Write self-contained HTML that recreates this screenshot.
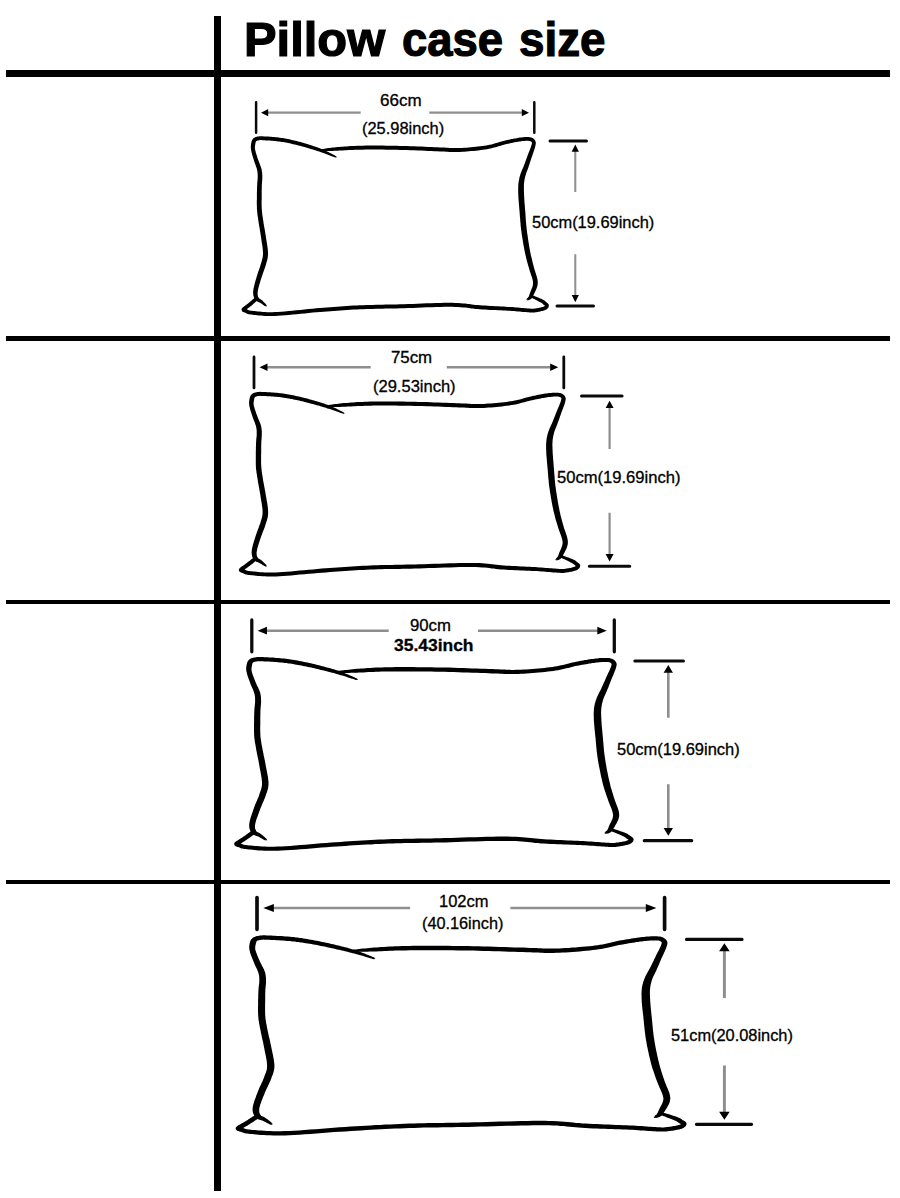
<!DOCTYPE html>
<html><head><meta charset="utf-8"><style>
html,body{margin:0;padding:0;background:#fff;}
body{width:900px;height:1198px;position:relative;overflow:hidden;font-family:"Liberation Sans",sans-serif;color:#111;}
.b{position:absolute;background:#000;}
.t{position:absolute;white-space:nowrap;line-height:1;transform-origin:0 0;color:#000;-webkit-text-stroke:0.3px #000;}
.h{-webkit-text-stroke:1.2px #000;}
svg{position:absolute;left:0;top:0;}
.p{fill:#000}
</style></head><body>
<div class="b" style="left:214px;top:16px;width:7px;height:1175px"></div>
<div class="b" style="left:6px;top:70px;width:884px;height:7px"></div>
<div class="b" style="left:6px;top:336px;width:884px;height:4.5px"></div>
<div class="b" style="left:6px;top:600px;width:884px;height:4.3px"></div>
<div class="b" style="left:6px;top:880px;width:884px;height:4.3px"></div>
<svg width="900" height="1198" viewBox="0 0 900 1198">
<path class="p" d="M266.5 304.9L266.3 304.7L266.0 304.4L265.7 304.0L265.3 303.6L264.9 303.2L264.5 302.8L264.1 302.3L263.6 301.9L263.2 301.4L262.8 301.0L262.4 300.6L262.0 300.2L261.5 299.9L261.0 299.5L260.6 299.3L260.1 299.0L259.8 298.8L259.4 298.6L259.1 298.4L258.9 298.2L258.8 298.1L258.6 297.9L258.6 297.8L258.4 297.5L258.3 297.2L258.1 296.8L258.0 296.4L257.9 296.0L257.8 295.5L257.7 295.0L257.7 294.5L257.6 294.0L257.6 293.4L257.6 292.7L257.7 292.0L257.8 291.3L257.9 290.4L258.1 289.5L258.3 288.4L258.6 287.3L259.0 286.1L259.3 284.8L259.7 283.6L260.1 282.3L260.4 281.1L260.8 279.8L261.2 278.6L261.5 277.5L261.9 276.4L262.2 275.4L262.6 274.3L263.0 273.3L263.3 272.2L263.7 271.2L264.1 270.1L264.5 269.1L264.8 268.1L265.2 267.0L265.5 266.0L265.8 265.0L266.1 264.0L266.3 263.2L266.6 262.3L266.8 261.4L267.1 260.6L267.3 259.7L267.5 258.8L267.7 257.8L267.8 256.8L267.9 255.7L268.0 254.6L268.0 253.4L268.0 252.1L267.9 250.7L267.8 249.3L267.6 247.9L267.4 246.4L267.2 244.9L267.0 243.4L266.7 241.9L266.5 240.5L266.2 239.1L266.0 237.7L265.8 236.3L265.6 235.0L265.4 233.7L265.2 232.4L265.0 231.2L264.8 229.9L264.6 228.7L264.3 227.5L264.1 226.3L263.9 225.1L263.7 223.9L263.5 222.8L263.4 221.6L263.2 220.5L263.0 219.4L262.9 218.4L262.7 217.4L262.6 216.3L262.4 215.4L262.3 214.4L262.2 213.4L262.1 212.4L262.0 211.4L261.9 210.3L261.8 209.3L261.7 208.1L261.7 207.0L261.7 205.8L261.6 204.5L261.6 203.3L261.6 202.0L261.6 200.8L261.7 199.6L261.7 198.4L261.7 197.2L261.7 196.1L261.7 195.0L261.7 194.0L261.7 193.1L261.7 192.2L261.7 191.3L261.7 190.5L261.7 189.6L261.8 188.9L261.8 188.1L261.8 187.3L261.8 186.6L261.8 185.8L261.8 185.1L261.9 184.4L261.9 183.7L262.0 183.0L262.0 182.4L262.1 181.7L262.1 181.0L262.2 180.4L262.2 179.7L262.3 179.0L262.3 178.4L262.3 177.7L262.3 177.0L262.3 176.3L262.3 175.7L262.3 175.1L262.2 174.5L262.2 173.8L262.2 173.2L262.1 172.5L262.0 171.9L261.9 171.2L261.8 170.5L261.7 169.7L261.5 169.0L261.3 168.2L261.0 167.4L260.7 166.6L260.4 165.8L260.1 165.0L259.8 164.1L259.5 163.3L259.2 162.5L258.9 161.7L258.6 160.9L258.3 160.1L258.0 159.4L257.7 158.5L257.4 157.7L257.2 156.8L256.9 155.9L256.6 155.0L256.3 154.1L256.0 153.2L255.8 152.4L255.6 151.6L255.4 150.8L255.2 150.1L255.1 149.5L255.0 148.9L254.9 148.4L254.9 147.9L254.9 147.4L254.9 147.0L254.9 146.6L255.0 146.2L255.0 145.9L255.1 145.5L255.1 145.1L255.2 144.7L255.3 144.3L255.3 143.9L255.4 143.6L255.4 143.2L255.5 142.9L255.6 142.6L255.6 142.3L255.7 142.1L255.8 141.9L255.8 141.7L255.9 141.6L256.0 141.5L256.1 141.4L256.1 141.3L256.2 141.2L256.4 141.1L256.6 141.0L256.8 140.9L257.0 140.8L257.2 140.7L257.5 140.6L257.8 140.5L258.2 140.5L258.5 140.4L258.9 140.3L259.2 140.3L259.5 140.2L259.7 140.2L260.0 140.1L260.2 140.1L260.4 140.1L260.8 140.1L261.1 140.1L261.6 140.1L262.2 140.2L262.9 140.2L263.7 140.2L264.6 140.3L265.7 140.4L266.9 140.4L268.2 140.5L269.6 140.6L271.0 140.7L272.4 140.8L273.9 140.9L275.3 141.1L276.8 141.2L278.1 141.4L279.4 141.5L280.7 141.7L282.0 141.9L283.2 142.1L284.5 142.3L285.8 142.6L287.0 142.8L288.3 143.1L289.5 143.3L290.8 143.6L292.0 143.9L293.3 144.2L294.6 144.4L295.8 144.7L297.1 145.1L298.3 145.4L299.6 145.7L300.9 146.0L302.1 146.4L303.4 146.7L304.6 147.1L305.9 147.5L307.1 147.8L308.3 148.2L309.5 148.5L310.6 148.9L311.8 149.2L312.9 149.5L314.0 149.9L315.0 150.2L316.1 150.5L317.1 150.9L318.2 151.2L319.2 151.5L320.3 151.9L321.3 152.3L322.4 152.7L323.5 153.1L324.7 153.5L326.0 153.9L327.3 154.4L328.6 154.9L329.8 155.4L331.1 155.9L332.2 156.4L333.3 156.8L334.2 157.1L335.0 157.4L335.7 157.6L336.5 156.5L336.7 156.8L336.7 157.0L336.6 157.3L336.5 157.5L336.2 157.7L336.0 157.7L336.3 156.4L335.7 156.0L334.9 155.6L334.1 155.1L333.1 154.5L332.0 153.9L330.8 153.3L329.6 152.7L328.3 152.1L327.1 151.4L325.9 150.8L324.7 150.2L323.6 149.7L322.5 149.3L321.4 148.9L320.4 148.4L319.3 148.0L318.2 147.7L317.2 147.3L316.1 146.9L315.0 146.5L313.9 146.2L312.8 145.8L311.7 145.5L310.5 145.1L309.3 144.7L308.1 144.3L306.9 144.0L305.7 143.6L304.4 143.2L303.1 142.8L301.9 142.5L300.6 142.1L299.3 141.7L298.0 141.4L296.7 141.1L295.4 140.8L294.2 140.4L292.9 140.2L291.6 139.9L290.3 139.6L289.1 139.3L287.8 139.0L286.5 138.8L285.2 138.5L283.9 138.3L282.6 138.1L281.3 137.9L280.0 137.7L278.6 137.5L277.2 137.3L275.7 137.2L274.2 137.0L272.7 136.9L271.3 136.8L269.8 136.7L268.5 136.6L267.2 136.5L266.0 136.5L264.9 136.4L263.9 136.4L263.1 136.3L262.4 136.3L261.8 136.2L261.2 136.2L260.8 136.2L260.4 136.2L260.0 136.2L259.6 136.3L259.2 136.3L258.9 136.4L258.5 136.4L258.1 136.5L257.7 136.6L257.3 136.6L256.9 136.7L256.5 136.8L256.0 137.0L255.6 137.1L255.2 137.3L254.8 137.5L254.3 137.7L253.9 138.0L253.5 138.3L253.1 138.6L252.8 139.0L252.5 139.4L252.3 139.8L252.0 140.3L251.9 140.7L251.7 141.1L251.6 141.6L251.5 142.0L251.4 142.4L251.3 142.8L251.2 143.3L251.1 143.7L251.1 144.1L251.0 144.5L251.0 144.9L250.9 145.4L250.9 145.9L250.8 146.4L250.8 146.9L250.8 147.5L250.9 148.1L250.9 148.8L251.0 149.4L251.1 150.1L251.3 150.9L251.4 151.7L251.6 152.6L251.9 153.4L252.1 154.3L252.4 155.3L252.6 156.2L252.9 157.1L253.2 158.0L253.5 158.9L253.7 159.8L254.0 160.6L254.3 161.5L254.6 162.4L254.9 163.2L255.2 164.1L255.5 164.9L255.8 165.7L256.0 166.5L256.3 167.2L256.6 168.0L256.8 168.7L257.0 169.4L257.1 170.0L257.2 170.6L257.4 171.3L257.4 171.8L257.5 172.4L257.6 173.0L257.6 173.5L257.6 174.1L257.7 174.6L257.7 175.2L257.7 175.8L257.7 176.4L257.7 177.0L257.7 177.6L257.7 178.2L257.6 178.8L257.6 179.4L257.5 180.0L257.5 180.6L257.4 181.3L257.4 182.0L257.3 182.7L257.2 183.4L257.2 184.1L257.2 184.9L257.1 185.7L257.1 186.4L257.1 187.2L257.0 188.0L257.0 188.7L257.0 189.6L257.0 190.4L257.0 191.2L256.9 192.1L256.9 193.0L256.9 194.0L256.9 195.0L256.9 196.0L256.9 197.1L256.9 198.3L256.9 199.5L256.8 200.8L256.8 202.0L256.8 203.3L256.8 204.6L256.9 205.9L256.9 207.1L256.9 208.4L257.0 209.5L257.1 210.7L257.2 211.8L257.3 212.9L257.4 213.9L257.5 215.0L257.7 216.0L257.8 217.0L258.0 218.1L258.1 219.1L258.3 220.2L258.5 221.2L258.6 222.4L258.8 223.5L259.0 224.7L259.2 225.9L259.4 227.1L259.6 228.3L259.8 229.5L260.0 230.7L260.2 232.0L260.4 233.2L260.6 234.5L260.8 235.8L261.0 237.1L261.2 238.4L261.4 239.8L261.6 241.3L261.8 242.7L262.1 244.2L262.3 245.6L262.5 247.1L262.7 248.5L262.8 249.8L262.9 251.1L263.0 252.3L263.0 253.4L263.0 254.4L262.9 255.3L262.8 256.2L262.7 257.0L262.6 257.8L262.4 258.5L262.2 259.3L262.0 260.1L261.8 260.9L261.5 261.8L261.3 262.7L261.0 263.6L260.7 264.6L260.4 265.5L260.1 266.5L259.8 267.5L259.4 268.5L259.1 269.5L258.7 270.6L258.3 271.6L257.9 272.7L257.6 273.8L257.2 275.0L256.9 276.1L256.5 277.2L256.2 278.4L255.8 279.7L255.4 281.0L255.1 282.3L254.7 283.6L254.4 284.9L254.1 286.1L253.8 287.4L253.5 288.5L253.4 289.7L253.2 290.7L253.1 291.7L253.1 292.6L253.2 293.5L253.2 294.3L253.3 295.1L253.5 295.9L253.7 296.6L253.9 297.2L254.1 297.8L254.4 298.4L254.6 298.9L255.0 299.5L255.3 300.0L255.8 300.6L256.3 301.0L256.8 301.3L257.3 301.6L257.8 301.8L258.3 302.0L258.7 302.2L259.0 302.3L259.4 302.4L259.7 302.6L260.0 302.8L260.4 303.0L260.9 303.3L261.4 303.6L261.9 304.0L262.4 304.3L262.9 304.7L263.4 305.0L263.9 305.4L264.3 305.7L264.7 305.9L265.0 306.1L265.3 306.3L266.7 305.2L266.8 305.5L266.8 305.9L266.6 306.2L266.3 306.4L266.0 306.5L265.6 306.5Z"/>
<path class="p" d="M321.1 151.1L321.8 151.1L322.6 151.1L323.6 151.1L324.7 151.1L325.8 151.1L327.1 151.0L328.5 151.0L329.9 150.9L331.4 150.9L332.9 150.9L334.5 150.8L336.1 150.8L337.8 150.7L339.4 150.6L341.1 150.5L342.9 150.4L344.7 150.3L346.6 150.2L348.5 150.1L350.6 150.0L352.7 149.9L355.0 149.8L357.5 149.7L360.0 149.7L362.8 149.7L365.8 149.6L368.9 149.6L372.1 149.6L375.5 149.6L379.0 149.6L382.5 149.6L386.1 149.7L389.6 149.7L393.1 149.8L396.6 149.8L400.0 149.9L403.3 150.0L406.8 150.1L410.4 150.2L414.0 150.3L417.6 150.5L421.2 150.6L424.7 150.8L428.1 150.9L431.3 151.1L434.4 151.2L437.3 151.3L439.9 151.4L442.3 151.5L444.3 151.6L446.1 151.7L447.8 151.8L449.3 151.9L450.7 151.9L452.1 152.0L453.5 152.0L455.0 152.1L456.5 152.1L458.2 152.0L460.1 151.9L462.1 151.8L464.3 151.7L466.5 151.5L468.9 151.3L471.3 151.1L473.6 150.9L476.0 150.7L478.4 150.4L480.7 150.1L482.9 149.8L485.0 149.5L487.0 149.2L488.9 148.8L490.7 148.5L492.4 148.0L494.0 147.6L495.6 147.2L497.1 146.7L498.6 146.3L500.0 145.9L501.4 145.4L502.8 145.0L504.1 144.7L505.4 144.3L506.8 144.0L508.2 143.7L509.5 143.4L510.8 143.1L512.1 142.9L513.4 142.6L514.7 142.3L515.9 142.1L517.0 141.9L518.1 141.7L519.2 141.5L520.3 141.4L521.3 141.2L522.2 141.1L523.1 141.0L524.0 140.9L524.9 140.9L525.7 140.8L526.4 140.8L527.2 140.8L527.8 140.8L528.4 140.8L529.0 140.9L529.5 140.9L529.9 141.0L530.3 141.1L530.5 141.2L530.8 141.4L531.0 141.5L531.2 141.6L531.3 141.7L531.4 141.9L531.6 142.0L531.7 142.2L531.8 142.4L531.9 142.6L531.9 142.7L531.9 142.8L532.0 142.9L532.0 143.0L531.9 143.2L531.9 143.4L531.9 143.6L531.8 143.9L531.7 144.3L531.6 144.7L531.4 145.2L531.3 145.8L531.1 146.3L530.9 147.0L530.6 147.7L530.3 148.4L530.1 149.2L529.7 150.0L529.4 150.9L529.1 151.8L528.7 152.6L528.4 153.5L528.0 154.4L527.7 155.3L527.4 156.1L527.1 157.0L526.8 157.9L526.4 158.8L526.1 159.7L525.8 160.6L525.4 161.5L525.1 162.4L524.8 163.3L524.5 164.2L524.1 165.0L523.8 165.8L523.6 166.5L523.3 167.2L523.0 167.9L522.7 168.5L522.4 169.2L522.1 169.8L521.8 170.5L521.5 171.2L521.3 171.9L521.0 172.6L520.7 173.3L520.5 174.1L520.3 174.8L520.1 175.6L519.8 176.3L519.6 177.1L519.4 177.8L519.3 178.6L519.1 179.4L518.9 180.2L518.8 181.0L518.6 181.9L518.5 182.8L518.4 183.7L518.3 184.6L518.3 185.5L518.2 186.4L518.2 187.3L518.2 188.3L518.2 189.2L518.2 190.2L518.2 191.2L518.2 192.2L518.2 193.2L518.3 194.2L518.3 195.3L518.4 196.5L518.4 197.6L518.5 198.8L518.6 200.0L518.7 201.2L518.8 202.4L518.9 203.7L519.0 204.9L519.1 206.3L519.2 207.6L519.3 209.0L519.5 210.4L519.6 211.9L519.7 213.4L519.8 215.0L519.9 216.6L520.1 218.2L520.2 219.9L520.3 221.6L520.5 223.3L520.6 225.1L520.8 226.8L521.0 228.6L521.2 230.3L521.5 232.1L521.7 234.0L522.0 235.8L522.3 237.7L522.6 239.6L522.9 241.5L523.2 243.4L523.5 245.3L523.9 247.1L524.2 248.9L524.5 250.6L524.9 252.2L525.2 253.8L525.5 255.3L525.9 256.8L526.2 258.2L526.6 259.6L526.9 260.9L527.3 262.2L527.6 263.5L528.0 264.7L528.3 265.9L528.7 267.1L529.0 268.3L529.3 269.4L529.7 270.6L530.0 271.7L530.4 272.8L530.8 273.9L531.1 274.9L531.4 275.9L531.8 276.8L532.0 277.7L532.3 278.5L532.5 279.3L532.6 280.0L532.8 280.6L532.9 281.2L533.0 281.7L533.0 282.2L533.0 282.6L533.1 283.0L533.0 283.3L533.0 283.7L533.0 284.0L532.9 284.5L532.8 284.9L532.8 285.4L532.7 285.9L532.5 286.4L532.4 286.9L532.2 287.5L531.9 288.1L531.7 288.7L531.5 289.3L531.2 289.9L531.0 290.5L530.7 291.1L530.5 291.7L530.3 292.2L530.1 292.7L529.9 293.2L529.8 293.6L529.7 294.0L529.5 294.4L529.4 294.8L529.3 295.1L529.2 295.4L529.1 295.7L529.0 295.9L528.9 296.2L528.8 296.4L528.7 296.5L528.6 296.7L528.5 296.9L528.4 297.1L528.2 297.3L528.0 297.5L527.8 297.7L527.6 297.9L527.4 298.1L527.2 298.2L527.1 298.4L526.9 298.6L527.7 300.4L527.3 300.4L526.9 300.2L526.7 300.0L526.5 299.6L526.5 299.2L526.7 298.8L528.1 300.2L528.2 300.2L528.4 300.2L528.6 300.1L528.8 300.1L529.1 300.0L529.5 299.8L529.8 299.7L530.1 299.5L530.5 299.3L530.9 299.1L531.3 298.8L531.6 298.4L531.9 298.1L532.1 297.7L532.4 297.4L532.6 297.0L532.8 296.6L533.0 296.3L533.2 295.9L533.3 295.5L533.5 295.1L533.7 294.7L533.9 294.2L534.1 293.8L534.4 293.3L534.6 292.8L534.9 292.3L535.2 291.7L535.4 291.1L535.7 290.4L536.0 289.8L536.3 289.1L536.6 288.4L536.8 287.8L537.1 287.1L537.2 286.4L537.4 285.8L537.5 285.3L537.6 284.7L537.7 284.2L537.7 283.6L537.7 283.0L537.8 282.5L537.7 281.8L537.7 281.2L537.6 280.5L537.5 279.8L537.4 279.0L537.2 278.2L536.9 277.2L536.7 276.3L536.4 275.4L536.1 274.4L535.8 273.4L535.4 272.3L535.1 271.3L534.8 270.2L534.4 269.2L534.1 268.1L533.8 266.9L533.5 265.8L533.2 264.6L532.9 263.4L532.6 262.2L532.3 260.9L532.0 259.6L531.7 258.3L531.3 257.0L531.0 255.6L530.7 254.2L530.4 252.7L530.1 251.2L529.8 249.6L529.5 247.9L529.2 246.2L528.9 244.4L528.6 242.5L528.3 240.7L528.0 238.8L527.8 236.9L527.5 235.0L527.2 233.2L527.0 231.4L526.8 229.7L526.6 228.0L526.4 226.2L526.2 224.5L526.1 222.8L525.9 221.1L525.8 219.5L525.7 217.8L525.6 216.2L525.5 214.6L525.4 213.0L525.3 211.5L525.1 210.0L525.0 208.5L524.9 207.1L524.8 205.8L524.7 204.5L524.6 203.2L524.5 201.9L524.4 200.7L524.3 199.5L524.3 198.4L524.2 197.3L524.1 196.2L524.1 195.1L524.0 194.0L524.0 193.0L524.0 192.0L523.9 191.0L523.9 190.1L523.9 189.2L523.9 188.3L523.9 187.4L523.9 186.6L523.9 185.8L523.9 184.9L524.0 184.1L524.0 183.4L524.1 182.6L524.2 181.9L524.3 181.1L524.4 180.4L524.5 179.7L524.7 179.0L524.8 178.3L525.0 177.6L525.1 176.9L525.3 176.2L525.5 175.5L525.7 174.9L525.9 174.2L526.1 173.6L526.3 173.0L526.5 172.4L526.7 171.7L527.0 171.1L527.3 170.4L527.5 169.7L527.8 169.0L528.1 168.2L528.4 167.4L528.6 166.6L528.9 165.8L529.2 164.9L529.5 164.0L529.8 163.1L530.1 162.1L530.4 161.2L530.7 160.3L531.0 159.4L531.3 158.5L531.6 157.6L531.9 156.7L532.2 155.9L532.5 155.0L532.8 154.1L533.1 153.2L533.4 152.4L533.7 151.5L534.0 150.6L534.3 149.8L534.5 149.0L534.7 148.2L535.0 147.5L535.1 146.8L535.3 146.3L535.4 145.7L535.5 145.3L535.6 144.8L535.7 144.3L535.8 143.9L535.8 143.4L535.8 142.9L535.8 142.4L535.7 141.9L535.5 141.4L535.3 141.0L535.1 140.6L534.9 140.2L534.6 139.8L534.3 139.4L533.9 139.0L533.5 138.7L533.0 138.3L532.5 138.1L532.0 137.8L531.4 137.6L530.8 137.4L530.1 137.3L529.4 137.2L528.7 137.1L528.0 137.1L527.2 137.0L526.4 137.0L525.5 137.1L524.6 137.1L523.7 137.2L522.8 137.3L521.8 137.4L520.8 137.5L519.7 137.6L518.7 137.8L517.5 138.0L516.4 138.2L515.2 138.4L513.9 138.6L512.7 138.9L511.4 139.1L510.0 139.4L508.7 139.7L507.3 140.0L506.0 140.3L504.6 140.7L503.1 141.0L501.7 141.4L500.3 141.8L498.9 142.2L497.5 142.7L496.0 143.1L494.6 143.5L493.0 144.0L491.5 144.4L489.9 144.7L488.2 145.1L486.4 145.4L484.5 145.7L482.4 146.0L480.2 146.3L478.0 146.6L475.6 146.8L473.3 147.1L470.9 147.3L468.6 147.5L466.3 147.7L464.0 147.8L461.9 148.0L459.9 148.1L458.1 148.1L456.5 148.1L455.0 148.1L453.6 148.1L452.3 148.1L450.9 148.0L449.5 147.9L448.0 147.8L446.4 147.7L444.5 147.6L442.4 147.5L440.1 147.4L437.4 147.3L434.6 147.2L431.5 147.1L428.2 146.9L424.8 146.8L421.3 146.6L417.8 146.5L414.1 146.3L410.5 146.2L407.0 146.1L403.5 146.0L400.0 145.9L396.7 145.8L393.2 145.8L389.7 145.7L386.1 145.7L382.5 145.6L379.0 145.6L375.5 145.6L372.1 145.6L368.9 145.6L365.7 145.6L362.7 145.7L360.0 145.7L357.4 145.8L354.9 145.9L352.6 146.0L350.4 146.1L348.3 146.2L346.3 146.4L344.4 146.5L342.6 146.7L340.9 146.8L339.2 146.9L337.5 147.1L335.9 147.2L334.3 147.4L332.7 147.6L331.1 147.8L329.7 148.0L328.2 148.1L326.9 148.3L325.6 148.5L324.5 148.7L323.4 148.9L322.4 149.0L321.6 149.2L320.9 149.3L320.7 151.1L320.4 150.9L320.2 150.6L320.1 150.3L320.1 149.9L320.3 149.6L320.6 149.4Z"/>
<path class="p" d="M531.5 297.7L531.9 297.9L532.6 298.3L533.3 298.7L534.2 299.1L535.1 299.5L536.0 300.0L537.0 300.5L537.9 301.0L538.8 301.4L539.6 301.9L540.3 302.3L540.9 302.6L541.3 302.8L541.7 303.1L542.0 303.3L542.3 303.5L542.5 303.6L542.6 303.8L542.8 303.9L543.0 304.1L543.1 304.3L543.3 304.5L543.5 304.7L543.8 304.9L544.1 305.1L544.4 305.3L544.6 305.5L544.8 305.7L545.0 305.8L545.2 306.0L545.3 306.0L545.3 306.1L545.3 306.1L545.2 305.9L545.2 305.7L545.2 305.5L545.2 305.4L545.1 305.5L545.1 305.5L545.1 305.6L545.0 305.7L544.9 305.8L544.8 305.9L544.7 306.0L544.5 306.1L544.3 306.3L544.1 306.4L543.8 306.6L543.4 306.7L542.8 306.9L542.2 307.1L541.5 307.2L540.8 307.4L540.1 307.6L539.3 307.8L538.5 307.9L537.8 308.1L537.0 308.2L536.3 308.3L535.7 308.4L535.2 308.5L534.7 308.6L534.3 308.6L534.0 308.7L533.8 308.7L533.5 308.7L533.2 308.7L532.8 308.7L532.3 308.7L531.7 308.7L530.9 308.7L529.9 308.6L528.8 308.5L527.6 308.4L526.2 308.3L524.8 308.2L523.2 308.1L521.6 307.9L519.8 307.8L518.0 307.6L516.1 307.4L514.2 307.3L512.2 307.1L510.1 307.0L508.0 306.9L505.7 306.7L503.3 306.6L500.8 306.5L498.2 306.3L495.6 306.2L493.0 306.1L490.3 305.9L487.7 305.8L485.1 305.6L482.6 305.5L480.1 305.3L477.9 305.1L475.7 304.9L473.7 304.7L471.7 304.4L469.7 304.1L467.6 303.9L465.5 303.6L463.2 303.4L460.8 303.2L458.1 303.0L455.2 302.9L452.0 302.8L448.5 302.8L444.6 302.8L440.4 302.9L435.9 303.0L431.4 303.2L426.7 303.3L422.0 303.5L417.3 303.7L412.6 303.9L408.2 304.0L403.9 304.2L399.9 304.3L396.2 304.4L392.6 304.5L389.1 304.5L385.7 304.6L382.4 304.7L379.2 304.7L376.0 304.8L372.8 304.9L369.7 304.9L366.5 305.0L363.2 305.2L359.9 305.3L356.6 305.5L353.3 305.6L350.0 305.8L346.7 306.0L343.5 306.2L340.2 306.5L336.9 306.7L333.6 306.9L330.2 307.2L326.8 307.5L323.4 307.7L319.8 308.0L316.2 308.3L312.4 308.7L308.4 309.1L304.4 309.5L300.3 309.9L296.3 310.3L292.3 310.7L288.4 311.1L284.7 311.4L281.2 311.7L277.9 311.9L274.9 312.1L272.2 312.2L269.7 312.2L267.3 312.2L265.1 312.1L263.0 312.0L261.1 311.8L259.2 311.6L257.6 311.5L256.0 311.3L254.5 311.1L253.2 311.0L251.9 310.8L250.8 310.7L250.0 310.6L249.4 310.4L248.9 310.3L248.6 310.2L248.3 310.1L248.2 310.0L248.0 309.9L247.8 309.8L247.5 309.6L247.1 309.4L246.7 309.2L246.3 309.1L246.0 309.0L245.6 308.9L245.4 308.8L245.1 308.7L245.0 308.6L244.9 308.6L244.9 308.6L245.0 308.7L245.2 308.9L245.4 309.4L245.4 309.9L245.3 310.3L245.2 310.4L245.2 310.4L245.3 310.2L245.5 310.1L245.8 309.9L246.1 309.7L246.4 309.5L246.7 309.2L247.0 309.0L247.4 308.7L247.7 308.5L247.9 308.3L248.2 308.1L248.4 307.9L248.6 307.8L248.9 307.6L249.1 307.4L249.4 307.2L249.7 306.9L250.1 306.7L250.4 306.4L250.8 306.1L251.2 305.8L251.7 305.4L252.2 304.9L252.8 304.4L253.5 303.8L254.1 303.2L254.8 302.7L255.5 302.1L256.1 301.5L256.7 301.0L257.2 300.6L257.6 300.2L257.9 299.9L256.1 296.7L256.8 296.6L257.5 296.8L258.1 297.3L258.5 297.9L258.6 298.6L258.4 299.3L255.5 297.1L255.1 297.4L254.7 297.7L254.2 298.2L253.6 298.7L253.0 299.2L252.3 299.8L251.7 300.4L251.0 300.9L250.4 301.5L249.8 302.0L249.2 302.5L248.8 302.8L248.4 303.2L248.0 303.4L247.7 303.7L247.4 303.9L247.2 304.1L246.9 304.3L246.6 304.5L246.4 304.7L246.1 304.9L245.9 305.1L245.6 305.3L245.3 305.5L245.1 305.7L244.8 305.9L244.5 306.1L244.2 306.4L243.8 306.6L243.5 306.9L243.1 307.1L242.8 307.4L242.5 307.7L242.2 308.1L241.8 308.6L241.6 309.3L241.6 310.1L241.9 310.9L242.3 311.4L242.7 311.7L243.1 311.9L243.4 312.1L243.8 312.2L244.1 312.3L244.4 312.5L244.7 312.6L245.0 312.7L245.3 312.8L245.5 312.8L245.6 312.9L245.8 313.0L246.0 313.2L246.3 313.4L246.8 313.6L247.3 313.8L247.9 314.0L248.6 314.2L249.4 314.3L250.4 314.5L251.5 314.6L252.7 314.7L254.1 314.9L255.6 315.1L257.2 315.2L258.9 315.4L260.7 315.6L262.7 315.8L264.9 315.9L267.2 316.0L269.6 316.0L272.3 316.0L275.1 315.9L278.1 315.8L281.4 315.5L285.0 315.3L288.8 314.9L292.7 314.6L296.6 314.2L300.7 313.8L304.8 313.4L308.8 313.0L312.7 312.6L316.5 312.3L320.2 312.0L323.7 311.7L327.1 311.4L330.5 311.2L333.9 310.9L337.2 310.7L340.5 310.5L343.7 310.2L347.0 310.0L350.2 309.8L353.5 309.6L356.8 309.5L360.1 309.3L363.4 309.2L366.6 309.0L369.8 308.9L372.9 308.9L376.1 308.8L379.3 308.7L382.5 308.7L385.8 308.6L389.2 308.5L392.7 308.5L396.3 308.4L400.1 308.3L404.1 308.2L408.3 308.0L412.8 307.9L417.4 307.7L422.1 307.5L426.8 307.3L431.5 307.2L436.1 307.0L440.5 306.9L444.6 306.8L448.5 306.8L452.0 306.8L455.1 306.9L457.9 307.0L460.5 307.2L462.8 307.4L465.0 307.6L467.1 307.8L469.1 308.1L471.1 308.4L473.2 308.6L475.3 308.9L477.5 309.1L479.9 309.3L482.3 309.5L484.9 309.6L487.5 309.7L490.1 309.9L492.8 310.0L495.4 310.1L498.0 310.2L500.6 310.3L503.1 310.4L505.5 310.6L507.7 310.7L509.9 310.8L511.9 310.9L513.9 311.1L515.8 311.2L517.7 311.4L519.5 311.6L521.2 311.7L522.9 311.9L524.4 312.0L525.9 312.1L527.3 312.2L528.5 312.3L529.7 312.4L530.7 312.4L531.5 312.5L532.2 312.5L532.8 312.5L533.3 312.5L533.7 312.5L534.1 312.5L534.5 312.5L534.9 312.4L535.3 312.3L535.7 312.3L536.3 312.2L537.0 312.1L537.7 312.0L538.5 311.8L539.3 311.7L540.1 311.5L540.9 311.3L541.7 311.1L542.5 310.9L543.3 310.7L544.0 310.5L544.6 310.3L545.2 310.0L545.8 309.8L546.3 309.5L546.8 309.2L547.2 308.9L547.5 308.5L547.9 308.1L548.1 307.8L548.4 307.4L548.6 307.0L548.7 306.6L548.8 306.2L548.8 305.7L548.8 305.1L548.7 304.5L548.4 304.0L548.1 303.7L547.8 303.4L547.5 303.1L547.3 302.9L547.0 302.7L546.8 302.5L546.6 302.4L546.4 302.2L546.2 302.1L546.0 302.0L545.9 301.8L545.7 301.6L545.5 301.5L545.3 301.2L545.0 301.0L544.7 300.8L544.4 300.5L544.0 300.3L543.6 300.0L543.1 299.7L542.5 299.4L541.9 299.1L541.1 298.8L540.2 298.4L539.3 298.0L538.3 297.6L537.3 297.2L536.3 296.8L535.4 296.4L534.5 296.1L533.7 295.8L533.0 295.5L532.5 295.3L531.0 297.4L530.8 297.0L530.7 296.5L530.8 296.0L531.1 295.5L531.5 295.3L532.0 295.2Z"/>
<path class="p" d="M266.5 565.1L266.3 564.8L266.0 564.5L265.6 564.2L265.2 563.8L264.8 563.4L264.3 562.9L263.8 562.4L263.3 562.0L262.8 561.5L262.4 561.1L261.9 560.7L261.5 560.3L260.9 559.9L260.4 559.6L259.9 559.3L259.4 559.0L259.0 558.8L258.6 558.6L258.3 558.4L258.1 558.2L257.9 558.1L257.8 557.9L257.7 557.8L257.6 557.5L257.4 557.2L257.2 556.7L257.1 556.3L256.9 555.9L256.8 555.4L256.7 554.9L256.7 554.4L256.6 553.9L256.6 553.3L256.6 552.6L256.7 551.9L256.8 551.1L257.0 550.2L257.2 549.2L257.4 548.1L257.8 547.0L258.1 545.7L258.5 544.5L258.9 543.2L259.3 541.9L259.8 540.6L260.2 539.3L260.6 538.1L261.0 536.9L261.4 535.8L261.8 534.8L262.2 533.7L262.6 532.6L263.0 531.5L263.4 530.5L263.8 529.4L264.3 528.3L264.7 527.3L265.0 526.2L265.4 525.1L265.7 524.1L266.0 523.1L266.3 522.2L266.6 521.3L266.9 520.4L267.1 519.6L267.4 518.6L267.6 517.7L267.8 516.7L267.9 515.7L268.1 514.6L268.1 513.4L268.2 512.2L268.1 510.9L268.0 509.5L267.9 508.0L267.7 506.5L267.5 505.0L267.3 503.5L267.0 502.0L266.7 500.4L266.5 498.9L266.2 497.5L266.0 496.0L265.7 494.7L265.5 493.3L265.3 492.0L265.1 490.7L264.8 489.4L264.6 488.1L264.3 486.8L264.1 485.6L263.9 484.3L263.6 483.1L263.4 481.9L263.2 480.7L263.0 479.6L262.8 478.4L262.7 477.3L262.5 476.2L262.3 475.2L262.1 474.1L262.0 473.1L261.8 472.1L261.7 471.1L261.6 470.1L261.5 469.0L261.4 467.9L261.3 466.8L261.2 465.7L261.2 464.5L261.1 463.3L261.1 462.0L261.1 460.7L261.1 459.4L261.1 458.2L261.1 456.9L261.1 455.7L261.1 454.5L261.2 453.3L261.2 452.2L261.2 451.2L261.2 450.2L261.2 449.3L261.2 448.4L261.2 447.6L261.2 446.7L261.2 445.9L261.2 445.1L261.3 444.3L261.3 443.6L261.3 442.8L261.3 442.0L261.4 441.3L261.4 440.6L261.5 439.9L261.5 439.2L261.6 438.6L261.6 437.9L261.7 437.2L261.7 436.5L261.8 435.8L261.8 435.1L261.8 434.4L261.8 433.7L261.8 433.0L261.8 432.4L261.8 431.8L261.8 431.1L261.7 430.5L261.7 429.8L261.6 429.1L261.5 428.4L261.4 427.7L261.3 427.0L261.1 426.3L260.9 425.5L260.7 424.7L260.4 423.8L260.1 423.0L259.8 422.2L259.4 421.4L259.1 420.5L258.7 419.7L258.4 418.9L258.0 418.0L257.7 417.2L257.4 416.4L257.1 415.6L256.8 414.8L256.4 413.9L256.1 413.0L255.8 412.0L255.5 411.1L255.2 410.2L254.9 409.3L254.6 408.4L254.4 407.6L254.1 406.8L253.9 406.1L253.8 405.4L253.7 404.8L253.6 404.3L253.6 403.8L253.6 403.4L253.6 402.9L253.6 402.5L253.7 402.1L253.7 401.8L253.8 401.4L253.9 401.0L253.9 400.6L254.0 400.2L254.1 399.8L254.1 399.4L254.2 399.0L254.3 398.7L254.3 398.4L254.4 398.1L254.5 397.9L254.6 397.7L254.6 397.5L254.7 397.4L254.8 397.2L254.9 397.1L255.0 397.0L255.1 397.0L255.3 396.9L255.5 396.8L255.7 396.7L255.9 396.6L256.2 396.5L256.5 396.4L256.9 396.3L257.2 396.2L257.6 396.1L258.0 396.1L258.4 396.0L258.7 395.9L259.0 395.9L259.2 395.9L259.5 395.9L259.8 395.8L260.1 395.8L260.5 395.9L261.1 395.9L261.7 395.9L262.5 395.9L263.4 396.0L264.4 396.0L265.6 396.1L267.0 396.2L268.4 396.3L269.9 396.3L271.5 396.4L273.1 396.6L274.7 396.7L276.3 396.8L277.9 397.0L279.4 397.1L280.9 397.3L282.3 397.5L283.7 397.7L285.1 397.9L286.5 398.1L287.9 398.4L289.3 398.6L290.7 398.9L292.1 399.1L293.5 399.4L294.9 399.7L296.3 400.0L297.7 400.3L299.1 400.6L300.5 400.9L301.9 401.2L303.3 401.6L304.7 401.9L306.1 402.3L307.5 402.7L308.9 403.0L310.2 403.4L311.6 403.8L312.9 404.1L314.2 404.5L315.5 404.8L316.8 405.2L318.0 405.5L319.2 405.8L320.4 406.2L321.6 406.5L322.8 406.9L323.9 407.2L325.1 407.6L326.3 408.0L327.4 408.4L328.6 408.8L329.9 409.1L331.2 409.6L332.6 410.1L334.0 410.5L335.5 411.1L336.9 411.6L338.2 412.1L339.5 412.5L340.7 412.9L341.7 413.3L342.7 413.6L343.4 413.8L344.3 412.7L344.4 412.9L344.5 413.2L344.4 413.5L344.2 413.7L344.0 413.9L343.7 413.9L344.0 412.5L343.4 412.2L342.5 411.7L341.6 411.2L340.4 410.7L339.2 410.1L337.9 409.4L336.6 408.8L335.2 408.1L333.8 407.5L332.5 406.8L331.2 406.2L329.9 405.7L328.7 405.3L327.5 404.8L326.3 404.4L325.1 404.0L324.0 403.6L322.8 403.2L321.6 402.8L320.4 402.5L319.2 402.1L317.9 401.7L316.7 401.3L315.4 400.9L314.1 400.6L312.8 400.2L311.4 399.8L310.0 399.4L308.6 399.0L307.2 398.6L305.8 398.3L304.4 397.9L302.9 397.5L301.5 397.2L300.1 396.8L298.7 396.5L297.2 396.2L295.8 395.9L294.4 395.6L293.0 395.3L291.6 395.0L290.1 394.7L288.7 394.5L287.3 394.2L285.8 394.0L284.4 393.7L282.9 393.5L281.5 393.3L279.9 393.2L278.4 393.0L276.7 392.8L275.1 392.7L273.4 392.6L271.8 392.5L270.2 392.3L268.7 392.3L267.2 392.2L265.9 392.1L264.7 392.0L263.6 392.0L262.7 391.9L261.9 391.9L261.2 391.9L260.7 391.8L260.1 391.8L259.7 391.8L259.2 391.9L258.8 391.9L258.4 391.9L258.0 392.0L257.6 392.0L257.2 392.1L256.8 392.2L256.3 392.3L255.8 392.4L255.4 392.5L254.9 392.6L254.4 392.8L253.9 392.9L253.5 393.1L253.0 393.4L252.5 393.6L252.1 393.9L251.7 394.3L251.3 394.7L251.0 395.1L250.7 395.6L250.4 396.0L250.2 396.4L250.1 396.9L249.9 397.3L249.8 397.8L249.7 398.2L249.6 398.6L249.5 399.1L249.4 399.5L249.4 399.9L249.3 400.3L249.2 400.8L249.2 401.3L249.1 401.8L249.1 402.3L249.1 402.9L249.1 403.4L249.1 404.1L249.2 404.7L249.3 405.4L249.4 406.1L249.6 406.9L249.8 407.8L250.0 408.6L250.2 409.5L250.5 410.5L250.8 411.4L251.1 412.3L251.4 413.3L251.7 414.2L252.0 415.2L252.3 416.1L252.6 416.9L252.9 417.8L253.2 418.7L253.6 419.6L253.9 420.4L254.2 421.3L254.6 422.1L254.9 422.9L255.2 423.7L255.4 424.5L255.7 425.2L255.9 425.9L256.1 426.6L256.2 427.2L256.3 427.8L256.4 428.4L256.5 429.0L256.6 429.6L256.6 430.1L256.7 430.7L256.7 431.3L256.7 431.9L256.7 432.5L256.7 433.1L256.7 433.7L256.7 434.4L256.7 435.0L256.7 435.6L256.6 436.2L256.6 436.8L256.5 437.5L256.4 438.1L256.3 438.8L256.3 439.5L256.2 440.3L256.2 441.1L256.1 441.8L256.1 442.6L256.0 443.4L256.0 444.2L256.0 445.0L256.0 445.8L255.9 446.6L255.9 447.5L255.9 448.3L255.9 449.3L255.9 450.2L255.8 451.2L255.8 452.2L255.8 453.3L255.8 454.4L255.8 455.6L255.8 456.9L255.8 458.1L255.8 459.4L255.8 460.7L255.8 462.1L255.8 463.4L255.8 464.7L255.9 465.9L255.9 467.2L256.0 468.3L256.1 469.5L256.3 470.6L256.4 471.7L256.5 472.7L256.7 473.8L256.9 474.8L257.0 475.9L257.2 477.0L257.4 478.1L257.6 479.2L257.8 480.3L257.9 481.5L258.1 482.7L258.4 483.9L258.6 485.2L258.8 486.4L259.0 487.6L259.3 488.9L259.5 490.2L259.7 491.5L259.9 492.8L260.2 494.1L260.4 495.4L260.6 496.8L260.8 498.2L261.1 499.7L261.3 501.2L261.6 502.7L261.8 504.2L262.0 505.7L262.2 507.1L262.4 508.5L262.5 509.8L262.6 511.1L262.6 512.2L262.6 513.2L262.5 514.2L262.4 515.1L262.3 515.9L262.1 516.7L262.0 517.5L261.7 518.3L261.5 519.1L261.2 519.9L261.0 520.8L260.7 521.7L260.4 522.7L260.1 523.7L259.8 524.6L259.4 525.6L259.0 526.6L258.7 527.7L258.2 528.7L257.8 529.8L257.4 530.9L257.0 532.0L256.6 533.2L256.2 534.3L255.8 535.5L255.4 536.7L255.0 537.9L254.6 539.2L254.2 540.5L253.8 541.8L253.4 543.2L253.0 544.5L252.7 545.8L252.4 547.1L252.1 548.3L251.9 549.4L251.7 550.5L251.7 551.5L251.6 552.5L251.7 553.4L251.8 554.2L251.9 555.0L252.0 555.8L252.2 556.5L252.5 557.2L252.7 557.8L253.0 558.4L253.3 558.9L253.7 559.5L254.1 560.1L254.6 560.6L255.2 561.1L255.8 561.4L256.3 561.7L256.8 561.9L257.3 562.1L257.8 562.3L258.2 562.4L258.6 562.6L259.0 562.7L259.3 562.9L259.8 563.2L260.3 563.5L260.8 563.8L261.4 564.1L261.9 564.5L262.5 564.9L263.1 565.2L263.6 565.5L264.1 565.9L264.5 566.1L264.9 566.3L265.2 566.5L266.7 565.4L266.8 565.7L266.8 566.1L266.6 566.4L266.3 566.6L265.9 566.7L265.5 566.7Z"/>
<path class="p" d="M327.1 407.1L327.9 407.1L328.8 407.1L329.9 407.1L331.1 407.1L332.4 407.1L333.8 407.1L335.3 407.0L336.9 407.0L338.6 406.9L340.3 406.9L342.1 406.8L343.8 406.8L345.7 406.7L347.5 406.6L349.4 406.5L351.4 406.4L353.4 406.3L355.4 406.2L357.6 406.1L359.9 406.0L362.3 405.9L364.9 405.8L367.6 405.7L370.4 405.7L373.5 405.6L376.8 405.6L380.2 405.6L383.9 405.6L387.6 405.6L391.5 405.6L395.4 405.6L399.3 405.7L403.3 405.7L407.2 405.8L411.0 405.8L414.8 405.9L418.5 406.0L422.4 406.1L426.4 406.2L430.4 406.3L434.4 406.5L438.3 406.6L442.2 406.8L446.0 406.9L449.6 407.1L453.0 407.2L456.2 407.3L459.2 407.4L461.8 407.5L464.0 407.6L466.1 407.7L467.9 407.8L469.6 407.9L471.2 408.0L472.7 408.0L474.3 408.1L475.9 408.1L477.6 408.1L479.5 408.1L481.6 408.0L483.8 407.9L486.2 407.7L488.7 407.6L491.3 407.4L494.0 407.2L496.6 406.9L499.3 406.7L501.9 406.4L504.5 406.1L506.9 405.8L509.3 405.5L511.5 405.1L513.6 404.8L515.6 404.4L517.5 404.0L519.3 403.6L521.0 403.1L522.7 402.6L524.3 402.2L525.9 401.7L527.5 401.3L529.0 400.9L530.5 400.5L532.0 400.2L533.5 399.9L535.0 399.5L536.5 399.2L538.0 398.9L539.4 398.7L540.8 398.4L542.2 398.1L543.5 397.9L544.8 397.7L546.1 397.5L547.3 397.3L548.4 397.1L549.5 397.0L550.6 396.9L551.6 396.8L552.6 396.7L553.6 396.6L554.5 396.6L555.3 396.5L556.1 396.5L556.8 396.5L557.5 396.6L558.1 396.6L558.7 396.7L559.1 396.8L559.5 396.9L559.9 397.0L560.1 397.1L560.4 397.2L560.5 397.4L560.7 397.5L560.9 397.7L561.0 397.8L561.1 398.0L561.2 398.2L561.3 398.4L561.4 398.5L561.4 398.6L561.4 398.7L561.4 398.8L561.4 399.0L561.4 399.2L561.3 399.4L561.2 399.7L561.1 400.1L561.0 400.6L560.8 401.1L560.7 401.6L560.5 402.2L560.2 402.9L559.9 403.6L559.6 404.4L559.3 405.2L559.0 406.0L558.6 406.9L558.2 407.8L557.8 408.7L557.5 409.6L557.1 410.5L556.7 411.4L556.4 412.3L556.0 413.2L555.6 414.1L555.3 415.1L554.9 416.0L554.5 416.9L554.2 417.9L553.8 418.8L553.4 419.7L553.1 420.6L552.7 421.4L552.4 422.2L552.1 423.0L551.8 423.7L551.4 424.4L551.1 425.0L550.8 425.7L550.5 426.4L550.2 427.1L549.9 427.8L549.6 428.5L549.3 429.2L549.0 429.9L548.7 430.7L548.4 431.5L548.2 432.3L548.0 433.0L547.7 433.8L547.5 434.6L547.3 435.4L547.1 436.2L546.9 437.0L546.8 437.9L546.6 438.7L546.5 439.6L546.4 440.6L546.3 441.5L546.2 442.4L546.2 443.4L546.1 444.3L546.1 445.3L546.1 446.3L546.1 447.2L546.1 448.3L546.1 449.3L546.2 450.3L546.2 451.4L546.3 452.5L546.3 453.7L546.4 454.9L546.5 456.1L546.6 457.3L546.7 458.5L546.8 459.8L546.9 461.1L547.0 462.4L547.1 463.8L547.3 465.2L547.4 466.6L547.5 468.1L547.7 469.6L547.8 471.1L547.9 472.7L548.1 474.4L548.2 476.1L548.3 477.8L548.5 479.5L548.7 481.3L548.8 483.1L549.0 484.9L549.3 486.7L549.5 488.5L549.8 490.3L550.0 492.2L550.4 494.1L550.7 496.1L551.0 498.0L551.4 500.0L551.7 501.9L552.1 503.9L552.4 505.7L552.8 507.6L553.2 509.3L553.5 511.0L553.9 512.6L554.3 514.1L554.7 515.6L555.0 517.1L555.4 518.5L555.8 519.9L556.2 521.2L556.6 522.5L557.0 523.8L557.4 525.0L557.8 526.3L558.1 527.5L558.5 528.7L558.9 529.9L559.3 531.0L559.7 532.1L560.1 533.2L560.5 534.3L560.9 535.3L561.2 536.2L561.5 537.1L561.8 538.0L562.0 538.8L562.2 539.5L562.3 540.2L562.4 540.8L562.5 541.3L562.6 541.8L562.6 542.2L562.6 542.5L562.6 542.9L562.6 543.3L562.6 543.7L562.5 544.1L562.4 544.6L562.3 545.1L562.2 545.6L562.1 546.1L561.9 546.6L561.6 547.2L561.4 547.8L561.1 548.4L560.9 549.1L560.6 549.7L560.3 550.3L560.0 550.9L559.8 551.5L559.5 552.0L559.3 552.5L559.2 553.0L559.0 553.5L558.9 553.9L558.7 554.3L558.6 554.7L558.5 555.0L558.4 555.3L558.2 555.6L558.1 555.9L558.0 556.1L557.9 556.3L557.8 556.5L557.7 556.7L557.6 556.9L557.4 557.1L557.2 557.3L557.0 557.5L556.8 557.7L556.6 557.9L556.4 558.1L556.2 558.2L556.0 558.4L555.9 558.6L556.7 560.4L556.3 560.4L555.9 560.3L555.5 560.0L555.4 559.6L555.4 559.2L555.5 558.9L557.1 560.3L557.2 560.3L557.4 560.2L557.7 560.2L558.0 560.1L558.3 560.0L558.6 559.9L559.0 559.7L559.4 559.6L559.8 559.3L560.2 559.1L560.6 558.8L561.0 558.5L561.3 558.1L561.6 557.7L561.9 557.4L562.1 557.0L562.3 556.6L562.5 556.2L562.8 555.8L563.0 555.4L563.2 555.0L563.4 554.6L563.6 554.1L563.8 553.7L564.1 553.2L564.4 552.7L564.7 552.1L565.0 551.5L565.3 550.9L565.6 550.2L566.0 549.6L566.3 548.9L566.6 548.2L566.9 547.5L567.1 546.8L567.3 546.1L567.4 545.5L567.6 544.9L567.7 544.4L567.8 543.8L567.8 543.2L567.9 542.6L567.9 542.0L567.8 541.4L567.8 540.7L567.7 540.1L567.6 539.3L567.4 538.5L567.2 537.6L567.0 536.7L566.7 535.7L566.4 534.7L566.0 533.7L565.7 532.7L565.3 531.6L564.9 530.6L564.5 529.5L564.2 528.4L563.8 527.2L563.5 526.1L563.2 524.9L562.8 523.7L562.5 522.4L562.1 521.2L561.8 519.9L561.4 518.6L561.1 517.2L560.7 515.9L560.4 514.4L560.1 513.0L559.7 511.5L559.4 509.9L559.1 508.3L558.7 506.5L558.4 504.8L558.1 502.9L557.7 501.0L557.4 499.1L557.1 497.2L556.8 495.2L556.5 493.3L556.2 491.4L555.9 489.6L555.7 487.8L555.4 486.1L555.2 484.3L555.1 482.5L554.9 480.8L554.7 479.1L554.6 477.3L554.5 475.6L554.3 474.0L554.2 472.3L554.1 470.7L554.0 469.1L553.8 467.6L553.7 466.1L553.6 464.7L553.5 463.3L553.4 461.9L553.3 460.6L553.1 459.3L553.0 458.1L553.0 456.9L552.9 455.7L552.8 454.5L552.7 453.4L552.7 452.3L552.6 451.2L552.6 450.1L552.5 449.1L552.5 448.1L552.5 447.1L552.4 446.2L552.4 445.3L552.4 444.4L552.4 443.6L552.5 442.7L552.5 441.9L552.6 441.1L552.6 440.3L552.7 439.5L552.8 438.7L552.9 438.0L553.1 437.2L553.2 436.5L553.3 435.8L553.5 435.1L553.7 434.4L553.9 433.6L554.0 432.9L554.2 432.2L554.4 431.5L554.7 430.9L554.9 430.2L555.1 429.6L555.4 429.0L555.6 428.3L555.9 427.7L556.2 427.0L556.5 426.2L556.8 425.5L557.1 424.7L557.4 423.9L557.7 423.0L558.0 422.2L558.4 421.3L558.7 420.4L559.0 419.4L559.4 418.5L559.7 417.5L560.0 416.6L560.4 415.6L560.7 414.7L561.0 413.8L561.3 412.9L561.6 412.0L562.0 411.1L562.3 410.2L562.7 409.3L563.0 408.4L563.3 407.5L563.7 406.6L564.0 405.8L564.3 405.0L564.5 404.2L564.8 403.4L564.9 402.7L565.1 402.2L565.3 401.6L565.4 401.1L565.5 400.6L565.6 400.2L565.7 399.7L565.7 399.2L565.7 398.7L565.7 398.2L565.5 397.7L565.4 397.2L565.2 396.8L564.9 396.3L564.7 395.9L564.4 395.5L564.0 395.1L563.6 394.7L563.1 394.4L562.6 394.0L562.1 393.7L561.5 393.5L560.8 393.2L560.1 393.1L559.4 392.9L558.6 392.8L557.8 392.8L557.0 392.7L556.1 392.7L555.2 392.7L554.3 392.7L553.3 392.8L552.3 392.8L551.2 392.9L550.1 393.0L549.0 393.1L547.8 393.3L546.6 393.4L545.4 393.6L544.1 393.8L542.8 394.1L541.4 394.3L540.0 394.6L538.5 394.8L537.1 395.1L535.6 395.4L534.1 395.7L532.5 396.1L531.0 396.4L529.4 396.8L527.8 397.2L526.3 397.6L524.7 398.0L523.1 398.5L521.5 398.9L519.9 399.4L518.2 399.8L516.5 400.2L514.7 400.6L512.8 401.0L510.8 401.3L508.7 401.6L506.4 401.9L503.9 402.2L501.4 402.5L498.8 402.7L496.2 403.0L493.6 403.2L491.0 403.4L488.4 403.6L486.0 403.8L483.6 403.9L481.4 404.0L479.4 404.1L477.6 404.1L475.9 404.1L474.4 404.1L472.9 404.0L471.4 403.9L469.8 403.8L468.2 403.7L466.3 403.6L464.3 403.5L462.0 403.4L459.3 403.3L456.4 403.2L453.2 403.1L449.8 403.0L446.2 402.8L442.4 402.7L438.5 402.5L434.5 402.4L430.5 402.2L426.5 402.1L422.6 402.0L418.7 401.9L414.9 401.8L411.1 401.7L407.2 401.7L403.3 401.6L399.4 401.6L395.4 401.5L391.5 401.5L387.6 401.5L383.9 401.5L380.2 401.5L376.7 401.5L373.4 401.5L370.3 401.6L367.4 401.7L364.7 401.8L362.1 401.9L359.7 402.0L357.4 402.1L355.2 402.3L353.1 402.4L351.1 402.6L349.1 402.7L347.2 402.9L345.4 403.0L343.6 403.1L341.8 403.3L340.0 403.5L338.3 403.7L336.7 403.9L335.1 404.1L333.6 404.3L332.2 404.5L330.9 404.7L329.7 404.8L328.6 405.0L327.7 405.1L327.0 405.3L326.7 407.1L326.4 406.9L326.2 406.6L326.1 406.3L326.1 405.9L326.3 405.6L326.6 405.4Z"/>
<path class="p" d="M560.9 557.7L561.4 557.9L562.1 558.3L562.9 558.7L563.9 559.1L564.9 559.6L565.9 560.1L567.0 560.5L568.0 561.0L569.0 561.5L569.9 562.0L570.7 562.4L571.3 562.7L571.8 563.0L572.2 563.2L572.6 563.4L572.9 563.6L573.1 563.8L573.3 563.9L573.5 564.1L573.6 564.2L573.8 564.4L574.0 564.6L574.3 564.8L574.6 565.1L574.9 565.3L575.2 565.5L575.5 565.7L575.7 565.9L575.9 566.0L576.1 566.2L576.2 566.3L576.3 566.3L576.2 566.3L576.2 566.1L576.1 565.9L576.1 565.7L576.1 565.6L576.1 565.7L576.0 565.7L576.0 565.8L575.9 565.9L575.9 566.0L575.7 566.1L575.6 566.2L575.4 566.3L575.2 566.5L574.9 566.6L574.5 566.8L574.1 566.9L573.5 567.1L572.8 567.3L572.1 567.5L571.3 567.7L570.4 567.9L569.6 568.0L568.7 568.2L567.9 568.3L567.1 568.5L566.3 568.6L565.6 568.7L565.0 568.8L564.5 568.9L564.1 568.9L563.7 569.0L563.4 569.0L563.2 569.0L562.8 569.0L562.4 569.0L561.8 569.0L561.1 569.0L560.2 568.9L559.1 568.9L557.9 568.8L556.5 568.7L555.0 568.6L553.4 568.5L551.7 568.3L549.9 568.2L547.9 568.0L545.9 567.9L543.8 567.7L541.7 567.5L539.5 567.4L537.2 567.2L534.8 567.1L532.2 567.0L529.5 566.8L526.8 566.7L523.9 566.6L521.0 566.4L518.1 566.3L515.2 566.1L512.3 566.0L509.4 565.8L506.6 565.7L503.9 565.5L501.3 565.3L498.9 565.1L496.7 564.8L494.4 564.6L492.2 564.3L489.9 564.0L487.6 563.8L485.1 563.5L482.4 563.3L479.4 563.1L476.2 563.0L472.6 562.9L468.7 562.9L464.3 562.9L459.7 563.0L454.7 563.2L449.7 563.3L444.5 563.5L439.2 563.7L434.0 563.8L428.9 564.0L423.9 564.2L419.2 564.3L414.8 564.5L410.6 564.6L406.6 564.6L402.7 564.7L399.0 564.8L395.3 564.8L391.7 564.9L388.2 565.0L384.6 565.0L381.1 565.1L377.6 565.2L373.9 565.3L370.3 565.5L366.6 565.7L362.9 565.8L359.3 566.0L355.6 566.2L352.0 566.5L348.3 566.7L344.7 566.9L341.0 567.2L337.3 567.4L333.5 567.7L329.7 568.0L325.8 568.3L321.7 568.6L317.4 569.0L313.0 569.4L308.6 569.8L304.1 570.2L299.6 570.6L295.1 571.0L290.8 571.4L286.7 571.8L282.8 572.1L279.2 572.3L275.9 572.5L272.8 572.6L270.0 572.6L267.4 572.5L264.9 572.4L262.6 572.3L260.4 572.2L258.4 572.0L256.6 571.8L254.8 571.6L253.2 571.5L251.7 571.3L250.3 571.2L249.1 571.0L248.2 570.9L247.5 570.8L246.9 570.6L246.6 570.5L246.3 570.4L246.1 570.4L246.0 570.3L245.7 570.1L245.4 569.9L245.0 569.7L244.5 569.5L244.1 569.4L243.7 569.3L243.3 569.1L243.0 569.0L242.8 569.0L242.6 568.9L242.5 568.9L242.5 568.9L242.6 569.0L242.8 569.2L243.0 569.7L243.0 570.2L242.9 570.6L242.8 570.7L242.9 570.7L243.0 570.6L243.2 570.4L243.5 570.2L243.8 570.0L244.1 569.8L244.5 569.5L244.9 569.3L245.2 569.0L245.6 568.8L245.9 568.6L246.1 568.4L246.4 568.2L246.7 568.0L246.9 567.8L247.2 567.6L247.5 567.4L247.9 567.2L248.2 566.9L248.6 566.6L249.0 566.3L249.5 566.0L250.1 565.5L250.7 565.1L251.3 564.5L252.0 564.0L252.8 563.4L253.5 562.8L254.2 562.2L254.9 561.6L255.6 561.1L256.1 560.7L256.6 560.3L257.0 560.0L254.9 556.7L255.8 556.6L256.6 556.8L257.2 557.2L257.6 557.9L257.7 558.6L257.5 559.4L254.2 557.0L253.9 557.3L253.4 557.7L252.8 558.2L252.2 558.7L251.5 559.3L250.7 559.8L250.0 560.4L249.3 561.0L248.6 561.6L247.9 562.1L247.3 562.6L246.8 563.0L246.4 563.3L246.0 563.6L245.6 563.8L245.3 564.1L245.0 564.3L244.7 564.5L244.4 564.7L244.1 564.9L243.9 565.1L243.6 565.3L243.3 565.5L243.0 565.7L242.7 565.9L242.4 566.1L242.0 566.4L241.7 566.6L241.3 566.8L240.9 567.1L240.5 567.4L240.2 567.7L239.8 568.0L239.5 568.4L239.1 568.9L238.9 569.6L238.9 570.5L239.2 571.2L239.6 571.7L240.1 572.1L240.5 572.3L240.9 572.5L241.2 572.6L241.6 572.7L242.0 572.8L242.3 572.9L242.6 573.1L242.9 573.2L243.1 573.2L243.3 573.3L243.5 573.4L243.7 573.6L244.1 573.8L244.6 574.0L245.1 574.2L245.8 574.4L246.6 574.6L247.5 574.7L248.6 574.9L249.8 575.0L251.2 575.2L252.7 575.3L254.3 575.5L256.1 575.7L258.0 575.9L260.1 576.1L262.3 576.2L264.7 576.3L267.3 576.4L270.0 576.5L272.9 576.5L276.0 576.4L279.4 576.2L283.1 576.0L287.1 575.7L291.2 575.4L295.6 575.0L300.0 574.6L304.5 574.2L309.0 573.8L313.5 573.4L317.9 573.0L322.1 572.7L326.1 572.4L330.0 572.1L333.8 571.8L337.6 571.5L341.3 571.3L345.0 571.0L348.7 570.8L352.3 570.6L355.9 570.3L359.5 570.1L363.2 569.9L366.8 569.8L370.5 569.6L374.1 569.5L377.7 569.3L381.2 569.2L384.8 569.1L388.3 569.1L391.8 569.0L395.4 568.9L399.1 568.9L402.8 568.8L406.7 568.8L410.7 568.7L414.9 568.6L419.3 568.4L424.1 568.3L429.0 568.1L434.2 567.9L439.4 567.8L444.6 567.6L449.8 567.4L454.9 567.3L459.8 567.1L464.4 567.1L468.7 567.0L472.6 567.0L476.0 567.1L479.2 567.2L482.0 567.4L484.6 567.6L487.1 567.8L489.4 568.1L491.6 568.4L493.9 568.6L496.1 568.9L498.5 569.2L500.9 569.4L503.5 569.6L506.3 569.8L509.1 569.9L512.0 570.0L515.0 570.2L517.9 570.3L520.8 570.4L523.7 570.5L526.6 570.7L529.3 570.8L532.0 570.9L534.5 571.0L536.9 571.1L539.2 571.3L541.4 571.4L543.5 571.6L545.6 571.7L547.6 571.9L549.5 572.1L551.3 572.2L553.0 572.4L554.7 572.5L556.2 572.6L557.6 572.7L558.9 572.8L560.0 572.8L560.9 572.9L561.7 572.9L562.3 572.9L562.9 572.9L563.4 572.9L563.8 572.9L564.2 572.8L564.7 572.8L565.1 572.7L565.6 572.6L566.2 572.6L567.0 572.4L567.8 572.3L568.6 572.2L569.5 572.0L570.4 571.8L571.4 571.7L572.3 571.5L573.1 571.3L574.0 571.1L574.8 570.8L575.5 570.6L576.2 570.4L576.8 570.1L577.4 569.8L577.9 569.5L578.3 569.1L578.7 568.8L579.1 568.4L579.4 568.0L579.7 567.6L579.9 567.2L580.0 566.8L580.1 566.4L580.2 565.9L580.2 565.3L580.0 564.7L579.7 564.2L579.4 563.8L579.0 563.5L578.7 563.2L578.4 563.0L578.2 562.8L577.9 562.7L577.7 562.5L577.4 562.3L577.3 562.2L577.1 562.1L576.9 561.9L576.7 561.7L576.5 561.5L576.2 561.3L575.9 561.1L575.6 560.8L575.2 560.6L574.8 560.3L574.3 560.0L573.8 559.8L573.2 559.4L572.4 559.1L571.6 558.8L570.6 558.4L569.5 558.0L568.5 557.6L567.3 557.2L566.2 556.7L565.2 556.4L564.2 556.0L563.4 555.7L562.6 555.4L562.1 555.2L560.4 557.4L560.1 556.9L560.0 556.4L560.2 555.9L560.5 555.5L561.0 555.2L561.5 555.1Z"/>
<path class="p" d="M266.5 838.9L266.3 838.6L265.9 838.3L265.5 837.9L265.0 837.5L264.5 837.0L264.0 836.6L263.4 836.1L262.8 835.6L262.3 835.1L261.7 834.7L261.2 834.2L260.6 833.8L260.1 833.4L259.4 833.1L258.8 832.8L258.3 832.5L257.8 832.3L257.4 832.1L257.0 831.9L256.7 831.7L256.5 831.5L256.3 831.3L256.2 831.2L256.1 830.9L255.9 830.5L255.7 830.1L255.5 829.6L255.4 829.2L255.2 828.7L255.1 828.2L255.0 827.7L255.0 827.1L255.0 826.4L255.0 825.7L255.1 825.0L255.2 824.1L255.4 823.2L255.6 822.2L256.0 821.1L256.3 819.8L256.7 818.6L257.2 817.2L257.7 815.9L258.2 814.5L258.7 813.2L259.2 811.8L259.7 810.5L260.1 809.3L260.5 808.2L261.0 807.0L261.5 805.9L262.0 804.7L262.4 803.6L262.9 802.5L263.4 801.4L263.9 800.3L264.4 799.1L264.8 798.0L265.3 796.9L265.6 795.8L266.0 794.8L266.3 793.8L266.6 792.9L267.0 792.0L267.3 791.1L267.6 790.1L267.8 789.1L268.1 788.1L268.2 787.0L268.4 785.8L268.5 784.6L268.5 783.3L268.5 781.9L268.3 780.5L268.2 778.9L268.0 777.4L267.7 775.8L267.4 774.2L267.1 772.6L266.8 771.0L266.5 769.4L266.2 767.9L265.9 766.4L265.7 764.9L265.4 763.5L265.1 762.1L264.9 760.7L264.6 759.4L264.3 758.0L264.0 756.7L263.7 755.4L263.5 754.1L263.2 752.8L263.0 751.5L262.7 750.3L262.5 749.1L262.3 747.9L262.1 746.7L261.8 745.6L261.6 744.5L261.4 743.4L261.3 742.3L261.1 741.2L260.9 740.2L260.8 739.1L260.6 738.0L260.5 736.9L260.4 735.7L260.4 734.5L260.3 733.3L260.3 732.0L260.2 730.7L260.2 729.3L260.2 728.0L260.2 726.6L260.3 725.3L260.3 724.0L260.3 722.7L260.3 721.5L260.3 720.4L260.3 719.3L260.3 718.3L260.3 717.3L260.3 716.4L260.3 715.5L260.4 714.6L260.4 713.7L260.4 712.9L260.4 712.1L260.4 711.3L260.5 710.5L260.5 709.7L260.5 708.9L260.6 708.2L260.7 707.5L260.7 706.7L260.8 706.0L260.9 705.3L260.9 704.6L261.0 703.9L261.0 703.2L261.1 702.4L261.1 701.7L261.1 700.9L261.1 700.2L261.1 699.6L261.0 698.9L261.0 698.2L261.0 697.5L260.9 696.8L260.8 696.1L260.7 695.4L260.6 694.7L260.4 693.9L260.3 693.1L260.0 692.3L259.8 691.5L259.4 690.6L259.1 689.7L258.7 688.9L258.3 688.0L257.9 687.1L257.4 686.2L257.0 685.4L256.6 684.5L256.2 683.6L255.9 682.8L255.5 681.9L255.1 681.1L254.8 680.1L254.4 679.2L254.0 678.2L253.7 677.2L253.3 676.3L252.9 675.3L252.6 674.4L252.3 673.5L252.1 672.7L251.9 672.0L251.7 671.3L251.6 670.7L251.5 670.1L251.5 669.6L251.5 669.1L251.5 668.6L251.5 668.2L251.6 667.8L251.6 667.4L251.7 667.0L251.8 666.6L251.9 666.2L252.0 665.7L252.0 665.3L252.1 664.9L252.2 664.5L252.2 664.2L252.3 663.9L252.4 663.6L252.5 663.3L252.6 663.1L252.7 662.9L252.8 662.8L252.9 662.7L253.0 662.6L253.1 662.5L253.2 662.4L253.4 662.3L253.6 662.2L253.9 662.1L254.2 661.9L254.5 661.8L254.9 661.8L255.3 661.7L255.7 661.6L256.2 661.5L256.6 661.4L257.1 661.4L257.4 661.3L257.7 661.3L258.0 661.2L258.3 661.2L258.7 661.2L259.1 661.2L259.6 661.2L260.2 661.2L260.9 661.3L261.8 661.3L262.9 661.3L264.1 661.4L265.5 661.5L267.1 661.5L268.8 661.6L270.5 661.7L272.4 661.8L274.3 662.0L276.1 662.1L278.0 662.2L279.9 662.4L281.7 662.5L283.4 662.7L285.0 662.9L286.7 663.1L288.3 663.4L290.0 663.6L291.6 663.8L293.2 664.1L294.9 664.4L296.5 664.7L298.1 665.0L299.8 665.3L301.4 665.6L303.0 665.9L304.7 666.2L306.3 666.5L307.9 666.9L309.6 667.2L311.2 667.6L312.9 668.0L314.5 668.3L316.1 668.7L317.7 669.1L319.3 669.5L320.9 669.9L322.4 670.3L323.9 670.6L325.4 671.0L326.8 671.3L328.2 671.7L329.6 672.1L331.0 672.4L332.4 672.8L333.7 673.1L335.1 673.5L336.5 673.9L337.9 674.3L339.2 674.8L340.7 675.2L342.3 675.6L343.9 676.1L345.6 676.6L347.2 677.2L348.9 677.7L350.5 678.2L352.0 678.7L353.4 679.1L354.6 679.5L355.7 679.9L356.5 680.1L357.6 678.9L357.8 679.1L357.8 679.4L357.7 679.7L357.5 680.0L357.2 680.1L356.9 680.2L357.3 678.7L356.5 678.3L355.5 677.9L354.4 677.3L353.1 676.7L351.6 676.1L350.1 675.4L348.6 674.8L346.9 674.1L345.3 673.4L343.8 672.7L342.2 672.1L340.8 671.5L339.3 671.1L338.0 670.6L336.6 670.2L335.2 669.8L333.8 669.3L332.4 668.9L331.0 668.5L329.6 668.1L328.2 667.7L326.8 667.4L325.3 667.0L323.8 666.6L322.3 666.2L320.7 665.8L319.1 665.3L317.5 664.9L315.8 664.5L314.2 664.1L312.5 663.7L310.9 663.3L309.2 663.0L307.5 662.6L305.8 662.2L304.2 661.9L302.5 661.6L300.9 661.2L299.2 660.9L297.6 660.6L295.9 660.3L294.2 660.0L292.5 659.8L290.9 659.5L289.2 659.2L287.5 659.0L285.8 658.8L284.1 658.6L282.3 658.4L280.4 658.2L278.5 658.0L276.6 657.9L274.7 657.8L272.7 657.6L270.9 657.5L269.1 657.4L267.4 657.3L265.8 657.3L264.4 657.2L263.2 657.1L262.1 657.1L261.2 657.1L260.4 657.0L259.7 657.0L259.1 657.0L258.6 657.0L258.1 657.0L257.6 657.0L257.1 657.1L256.6 657.1L256.2 657.2L255.7 657.3L255.2 657.4L254.6 657.5L254.1 657.6L253.5 657.7L253.0 657.8L252.4 658.0L251.9 658.1L251.3 658.3L250.7 658.6L250.2 658.9L249.7 659.2L249.2 659.6L248.7 660.0L248.4 660.5L248.0 660.9L247.7 661.4L247.5 661.8L247.3 662.3L247.1 662.8L247.0 663.2L246.9 663.7L246.8 664.1L246.7 664.6L246.6 665.0L246.5 665.5L246.4 665.9L246.3 666.4L246.3 666.9L246.2 667.4L246.2 668.0L246.2 668.6L246.2 669.2L246.2 669.8L246.3 670.5L246.4 671.2L246.6 672.0L246.8 672.8L247.0 673.7L247.2 674.6L247.5 675.6L247.8 676.5L248.2 677.5L248.5 678.5L248.9 679.5L249.3 680.5L249.6 681.5L250.0 682.4L250.3 683.3L250.6 684.3L251.0 685.2L251.4 686.1L251.8 687.0L252.2 687.9L252.6 688.8L253.0 689.6L253.3 690.5L253.6 691.3L253.9 692.0L254.1 692.7L254.3 693.4L254.5 694.1L254.7 694.8L254.8 695.4L254.9 696.0L254.9 696.6L255.0 697.2L255.0 697.8L255.1 698.4L255.1 699.0L255.1 699.7L255.1 700.3L255.1 701.0L255.1 701.6L255.1 702.3L255.0 702.9L255.0 703.5L254.9 704.2L254.8 704.9L254.8 705.6L254.7 706.3L254.6 707.1L254.5 707.8L254.5 708.7L254.4 709.5L254.4 710.3L254.3 711.1L254.3 711.9L254.2 712.8L254.2 713.6L254.2 714.5L254.2 715.4L254.1 716.3L254.1 717.3L254.1 718.2L254.1 719.3L254.1 720.4L254.1 721.5L254.0 722.7L254.0 723.9L254.0 725.2L254.0 726.6L254.0 727.9L254.0 729.3L254.0 730.7L254.0 732.1L254.1 733.4L254.1 734.8L254.2 736.1L254.3 737.3L254.4 738.5L254.6 739.6L254.7 740.8L254.9 741.9L255.1 743.0L255.3 744.1L255.5 745.2L255.7 746.4L255.9 747.5L256.1 748.7L256.3 749.9L256.5 751.1L256.8 752.4L257.0 753.7L257.3 754.9L257.5 756.2L257.8 757.6L258.1 758.9L258.4 760.2L258.6 761.6L258.9 762.9L259.1 764.3L259.4 765.7L259.6 767.2L259.9 768.7L260.2 770.2L260.5 771.8L260.8 773.4L261.1 775.0L261.3 776.5L261.6 778.0L261.7 779.5L261.9 780.9L262.0 782.1L262.0 783.3L262.0 784.4L261.9 785.4L261.8 786.3L261.6 787.2L261.5 788.0L261.2 788.9L261.0 789.7L260.7 790.5L260.4 791.4L260.1 792.3L259.7 793.3L259.4 794.3L259.0 795.4L258.7 796.4L258.3 797.4L257.8 798.5L257.4 799.6L256.9 800.7L256.4 801.8L255.9 803.0L255.4 804.1L254.9 805.3L254.5 806.6L254.0 807.8L253.6 809.0L253.1 810.3L252.7 811.7L252.2 813.1L251.7 814.5L251.2 815.9L250.8 817.2L250.4 818.6L250.0 819.9L249.7 821.2L249.5 822.4L249.3 823.6L249.2 824.6L249.2 825.6L249.2 826.6L249.3 827.5L249.4 828.3L249.6 829.1L249.9 829.8L250.2 830.6L250.5 831.2L250.8 831.8L251.1 832.4L251.5 833.0L252.0 833.6L252.7 834.2L253.3 834.6L254.0 835.0L254.6 835.3L255.3 835.5L255.8 835.7L256.4 835.9L256.9 836.0L257.3 836.2L257.7 836.4L258.2 836.6L258.7 836.8L259.3 837.1L259.9 837.5L260.6 837.9L261.2 838.2L261.9 838.6L262.5 839.0L263.1 839.3L263.7 839.7L264.2 839.9L264.7 840.2L265.0 840.3L266.8 839.1L266.9 839.5L266.9 839.9L266.7 840.2L266.3 840.5L265.9 840.6L265.4 840.5Z"/>
<path class="p" d="M337.5 673.0L338.4 673.1L339.5 673.1L340.8 673.1L342.2 673.0L343.7 673.0L345.3 673.0L347.1 672.9L349.0 672.9L350.9 672.8L352.9 672.8L355.0 672.8L357.1 672.7L359.2 672.6L361.4 672.5L363.6 672.4L365.8 672.3L368.2 672.1L370.6 672.0L373.2 671.9L375.9 671.8L378.7 671.7L381.7 671.6L384.8 671.6L388.1 671.5L391.7 671.5L395.6 671.5L399.6 671.4L403.9 671.4L408.3 671.4L412.8 671.5L417.4 671.5L422.0 671.5L426.6 671.6L431.2 671.6L435.7 671.7L440.0 671.7L444.4 671.8L449.0 671.9L453.6 672.1L458.3 672.2L463.0 672.4L467.6 672.5L472.2 672.7L476.6 672.8L480.8 673.0L484.8 673.1L488.6 673.3L492.0 673.4L495.0 673.5L497.7 673.6L500.1 673.7L502.2 673.8L504.2 673.9L506.0 673.9L507.9 674.0L509.7 674.1L511.6 674.1L513.6 674.1L515.8 674.0L518.2 674.0L520.9 673.8L523.7 673.7L526.6 673.5L529.6 673.3L532.7 673.1L535.8 672.8L538.9 672.6L542.0 672.3L545.0 672.0L547.9 671.6L550.6 671.3L553.2 671.0L555.7 670.6L558.0 670.2L560.2 669.8L562.4 669.3L564.4 668.8L566.4 668.3L568.3 667.9L570.1 667.4L571.9 666.9L573.7 666.5L575.4 666.1L577.2 665.8L579.0 665.4L580.7 665.1L582.5 664.8L584.2 664.4L585.9 664.2L587.5 663.9L589.1 663.6L590.7 663.4L592.2 663.1L593.7 662.9L595.1 662.7L596.4 662.6L597.7 662.4L599.0 662.3L600.2 662.2L601.3 662.1L602.4 662.0L603.5 662.0L604.5 661.9L605.4 661.9L606.3 661.9L607.1 662.0L607.8 662.0L608.4 662.1L609.0 662.2L609.4 662.3L609.8 662.4L610.1 662.5L610.4 662.7L610.6 662.8L610.8 663.0L611.0 663.1L611.1 663.3L611.3 663.5L611.4 663.7L611.5 663.9L611.6 664.0L611.6 664.1L611.6 664.2L611.6 664.3L611.6 664.5L611.6 664.7L611.5 665.0L611.4 665.3L611.3 665.7L611.1 666.2L611.0 666.7L610.8 667.3L610.5 667.9L610.2 668.6L609.9 669.4L609.6 670.2L609.2 671.0L608.8 671.9L608.3 672.8L607.9 673.8L607.4 674.7L607.0 675.7L606.6 676.6L606.1 677.5L605.7 678.5L605.3 679.4L604.9 680.4L604.5 681.4L604.0 682.3L603.6 683.3L603.2 684.3L602.7 685.3L602.3 686.2L601.9 687.1L601.5 688.0L601.1 688.9L600.7 689.7L600.4 690.4L600.0 691.1L599.6 691.8L599.2 692.5L598.9 693.3L598.5 694.0L598.1 694.7L597.8 695.4L597.4 696.2L597.1 697.0L596.8 697.8L596.5 698.6L596.2 699.4L595.9 700.2L595.6 701.0L595.4 701.9L595.1 702.7L594.9 703.6L594.7 704.4L594.5 705.3L594.3 706.2L594.2 707.2L594.0 708.1L593.9 709.1L593.9 710.1L593.8 711.1L593.8 712.1L593.7 713.1L593.7 714.1L593.7 715.2L593.7 716.2L593.8 717.3L593.8 718.4L593.8 719.5L593.9 720.7L594.0 721.9L594.1 723.2L594.2 724.4L594.3 725.7L594.4 727.0L594.5 728.3L594.6 729.7L594.8 731.1L594.9 732.5L595.1 734.0L595.2 735.5L595.4 737.0L595.6 738.6L595.7 740.2L595.9 741.9L596.0 743.6L596.2 745.4L596.3 747.2L596.5 749.0L596.7 750.9L596.9 752.8L597.2 754.7L597.4 756.6L597.7 758.5L598.0 760.4L598.3 762.4L598.7 764.4L599.1 766.4L599.5 768.5L599.9 770.5L600.3 772.6L600.7 774.6L601.1 776.5L601.6 778.5L602.0 780.3L602.4 782.1L602.8 783.7L603.3 785.4L603.7 787.0L604.2 788.5L604.6 790.0L605.1 791.4L605.6 792.8L606.0 794.2L606.5 795.5L606.9 796.8L607.4 798.1L607.8 799.3L608.2 800.6L608.7 801.9L609.2 803.1L609.6 804.3L610.1 805.4L610.6 806.5L611.0 807.6L611.4 808.6L611.7 809.5L612.1 810.4L612.3 811.2L612.5 812.0L612.7 812.7L612.8 813.3L612.9 813.9L613.0 814.4L613.1 814.8L613.1 815.2L613.1 815.6L613.0 816.0L613.0 816.4L612.9 816.8L612.8 817.3L612.7 817.8L612.6 818.3L612.4 818.9L612.2 819.5L611.9 820.1L611.6 820.7L611.3 821.4L611.0 822.0L610.7 822.7L610.3 823.3L610.0 824.0L609.7 824.6L609.4 825.1L609.2 825.7L609.0 826.2L608.8 826.7L608.7 827.1L608.5 827.5L608.3 827.9L608.2 828.3L608.1 828.6L607.9 828.9L607.8 829.2L607.7 829.4L607.5 829.6L607.4 829.8L607.3 830.0L607.2 830.2L607.0 830.4L606.7 830.7L606.5 830.9L606.2 831.1L606.0 831.3L605.7 831.5L605.5 831.7L605.3 831.8L605.1 832.0L606.1 834.0L605.6 834.0L605.1 833.8L604.8 833.5L604.6 833.1L604.6 832.7L604.8 832.3L606.6 833.8L606.8 833.8L607.0 833.8L607.3 833.7L607.6 833.6L608.0 833.5L608.4 833.4L608.8 833.2L609.3 833.0L609.8 832.8L610.2 832.6L610.7 832.2L611.2 831.9L611.5 831.5L611.9 831.1L612.2 830.7L612.4 830.3L612.7 829.9L613.0 829.5L613.2 829.1L613.4 828.7L613.7 828.3L613.9 827.8L614.2 827.4L614.5 826.9L614.8 826.4L615.1 825.8L615.4 825.2L615.8 824.6L616.2 823.9L616.6 823.3L617.0 822.6L617.3 821.8L617.7 821.1L618.0 820.4L618.3 819.6L618.5 818.9L618.7 818.3L618.8 817.7L619.0 817.1L619.1 816.5L619.1 815.9L619.2 815.3L619.2 814.6L619.1 814.0L619.1 813.3L619.0 812.6L618.8 811.8L618.7 810.9L618.4 810.0L618.1 809.0L617.8 808.0L617.4 807.0L617.0 805.9L616.6 804.9L616.2 803.7L615.7 802.6L615.3 801.5L614.9 800.3L614.5 799.1L614.1 797.9L613.7 796.7L613.3 795.4L612.9 794.1L612.5 792.8L612.1 791.4L611.7 790.0L611.2 788.6L610.8 787.2L610.4 785.7L610.1 784.1L609.7 782.6L609.3 780.9L608.9 779.2L608.5 777.4L608.1 775.5L607.7 773.6L607.3 771.6L606.9 769.6L606.5 767.6L606.2 765.5L605.8 763.5L605.5 761.5L605.2 759.6L604.9 757.7L604.7 755.9L604.4 754.1L604.2 752.2L604.0 750.4L603.8 748.5L603.7 746.7L603.5 745.0L603.4 743.2L603.2 741.5L603.1 739.8L602.9 738.1L602.8 736.5L602.6 735.0L602.5 733.5L602.4 732.0L602.2 730.6L602.1 729.2L602.0 727.9L601.8 726.5L601.7 725.3L601.6 724.0L601.6 722.8L601.5 721.6L601.4 720.4L601.4 719.3L601.3 718.2L601.2 717.1L601.2 716.1L601.2 715.1L601.1 714.1L601.1 713.1L601.1 712.2L601.1 711.3L601.2 710.4L601.2 709.5L601.3 708.7L601.4 707.8L601.5 707.0L601.6 706.2L601.7 705.4L601.9 704.6L602.0 703.9L602.2 703.1L602.4 702.4L602.6 701.6L602.8 700.9L603.0 700.1L603.2 699.4L603.5 698.7L603.7 698.0L604.0 697.3L604.3 696.6L604.6 696.0L604.9 695.3L605.2 694.6L605.5 693.9L605.9 693.1L606.2 692.3L606.6 691.5L607.0 690.6L607.3 689.8L607.7 688.8L608.1 687.9L608.5 686.9L608.8 685.9L609.2 685.0L609.6 684.0L610.0 683.0L610.4 682.0L610.8 681.0L611.2 680.0L611.5 679.1L611.9 678.2L612.3 677.3L612.7 676.3L613.1 675.4L613.5 674.4L613.9 673.5L614.3 672.5L614.6 671.6L615.0 670.8L615.3 669.9L615.5 669.2L615.8 668.4L616.0 667.8L616.1 667.3L616.3 666.7L616.4 666.2L616.5 665.7L616.6 665.3L616.7 664.7L616.7 664.2L616.6 663.7L616.5 663.2L616.3 662.6L616.0 662.2L615.7 661.7L615.4 661.3L615.1 660.9L614.7 660.4L614.2 660.0L613.7 659.7L613.1 659.3L612.4 659.0L611.7 658.7L610.9 658.5L610.1 658.3L609.2 658.1L608.4 658.0L607.4 658.0L606.4 657.9L605.4 657.9L604.4 657.9L603.3 657.9L602.1 658.0L600.9 658.0L599.7 658.1L598.4 658.2L597.1 658.4L595.8 658.5L594.4 658.7L592.9 658.9L591.4 659.1L589.8 659.3L588.2 659.6L586.5 659.9L584.9 660.1L583.1 660.4L581.4 660.8L579.6 661.1L577.8 661.4L576.0 661.8L574.2 662.2L572.3 662.6L570.5 663.0L568.7 663.5L566.8 663.9L564.9 664.4L563.0 664.9L561.1 665.3L559.0 665.8L556.9 666.2L554.7 666.6L552.4 666.9L549.9 667.3L547.2 667.6L544.4 667.9L541.4 668.2L538.4 668.4L535.3 668.7L532.3 668.9L529.2 669.2L526.2 669.4L523.3 669.5L520.6 669.7L518.0 669.8L515.6 669.8L513.5 669.9L511.6 669.9L509.8 669.8L508.1 669.8L506.3 669.7L504.5 669.6L502.5 669.5L500.4 669.4L498.0 669.3L495.3 669.2L492.2 669.1L488.8 669.0L485.0 668.8L481.0 668.7L476.8 668.5L472.4 668.4L467.8 668.2L463.2 668.1L458.5 667.9L453.8 667.8L449.1 667.6L444.6 667.5L440.2 667.4L435.7 667.4L431.2 667.3L426.6 667.2L422.0 667.2L417.4 667.2L412.8 667.1L408.3 667.1L403.9 667.1L399.6 667.1L395.5 667.1L391.7 667.2L388.1 667.2L384.7 667.3L381.5 667.4L378.5 667.5L375.6 667.6L372.9 667.8L370.3 667.9L367.8 668.1L365.5 668.3L363.2 668.4L361.0 668.6L358.9 668.7L356.7 668.8L354.6 669.0L352.6 669.2L350.6 669.4L348.7 669.7L346.8 669.9L345.1 670.1L343.4 670.3L341.9 670.5L340.5 670.6L339.3 670.8L338.2 671.0L337.3 671.1L337.0 673.0L336.6 672.8L336.4 672.5L336.2 672.2L336.3 671.8L336.5 671.4L336.9 671.2Z"/>
<path class="p" d="M611.0 831.1L611.6 831.3L612.4 831.7L613.4 832.1L614.5 832.6L615.7 833.1L616.9 833.6L618.1 834.1L619.4 834.6L620.5 835.1L621.6 835.6L622.5 836.0L623.2 836.3L623.8 836.6L624.3 836.9L624.7 837.1L625.0 837.3L625.3 837.5L625.5 837.6L625.7 837.8L625.9 838.0L626.2 838.2L626.4 838.4L626.7 838.6L627.0 838.8L627.4 839.1L627.8 839.3L628.1 839.5L628.4 839.7L628.6 839.9L628.8 840.0L629.0 840.1L629.0 840.1L629.0 840.1L628.9 839.9L628.8 839.7L628.8 839.5L628.8 839.4L628.8 839.5L628.7 839.5L628.7 839.6L628.6 839.7L628.5 839.8L628.4 839.9L628.2 840.0L628.0 840.2L627.7 840.3L627.4 840.5L627.0 840.6L626.5 840.8L625.8 841.0L625.0 841.2L624.1 841.4L623.2 841.6L622.2 841.8L621.2 841.9L620.2 842.1L619.2 842.3L618.2 842.4L617.3 842.5L616.5 842.6L615.8 842.7L615.2 842.8L614.7 842.9L614.3 842.9L614.0 842.9L613.7 843.0L613.3 843.0L612.8 843.0L612.1 843.0L611.3 842.9L610.2 842.9L609.0 842.8L607.5 842.8L605.9 842.7L604.2 842.5L602.3 842.4L600.3 842.3L598.1 842.1L595.9 841.9L593.5 841.8L591.1 841.6L588.6 841.4L585.9 841.3L583.3 841.1L580.4 841.0L577.5 840.8L574.3 840.7L571.1 840.5L567.8 840.4L564.4 840.3L561.0 840.1L557.5 840.0L554.1 839.8L550.8 839.6L547.5 839.5L544.3 839.3L541.3 839.1L538.5 838.8L535.9 838.6L533.3 838.3L530.7 838.0L528.0 837.7L525.2 837.5L522.3 837.2L519.1 837.0L515.7 836.8L511.9 836.7L507.7 836.6L503.1 836.6L498.0 836.6L492.6 836.7L486.8 836.8L480.9 837.0L474.8 837.2L468.6 837.3L462.5 837.5L456.5 837.7L450.7 837.9L445.2 838.1L440.0 838.2L435.2 838.3L430.5 838.4L426.0 838.5L421.6 838.5L417.3 838.6L413.1 838.7L408.9 838.7L404.8 838.8L400.7 838.9L396.5 839.0L392.3 839.1L388.0 839.3L383.7 839.4L379.4 839.6L375.1 839.8L370.8 840.1L366.6 840.3L362.3 840.5L358.0 840.8L353.7 841.0L349.4 841.3L344.9 841.6L340.5 841.9L335.9 842.2L331.1 842.5L326.2 842.9L321.0 843.3L315.8 843.8L310.5 844.2L305.2 844.7L300.1 845.1L295.0 845.5L290.2 845.9L285.6 846.2L281.4 846.4L277.5 846.6L274.0 846.7L270.7 846.7L267.6 846.7L264.7 846.6L262.0 846.4L259.5 846.3L257.1 846.1L254.9 845.9L252.9 845.7L251.0 845.5L249.2 845.4L247.6 845.2L246.2 845.1L245.1 844.9L244.3 844.8L243.7 844.7L243.2 844.6L242.9 844.5L242.7 844.4L242.5 844.3L242.3 844.1L241.9 843.9L241.4 843.7L240.8 843.5L240.3 843.4L239.8 843.2L239.4 843.1L239.1 843.0L238.8 842.9L238.6 842.8L238.4 842.8L238.5 842.8L238.6 842.9L238.9 843.2L239.1 843.7L239.1 844.2L238.9 844.6L238.8 844.8L238.9 844.7L239.0 844.6L239.3 844.4L239.6 844.2L240.0 844.0L240.4 843.8L240.8 843.5L241.2 843.2L241.7 843.0L242.1 842.7L242.4 842.5L242.7 842.3L243.0 842.1L243.3 841.9L243.6 841.7L244.0 841.5L244.4 841.3L244.7 841.0L245.2 840.8L245.6 840.5L246.1 840.1L246.7 839.8L247.3 839.3L248.0 838.8L248.8 838.3L249.6 837.7L250.5 837.1L251.4 836.4L252.2 835.8L253.0 835.2L253.8 834.7L254.4 834.2L255.0 833.8L255.4 833.5L253.0 830.0L254.0 829.9L254.9 830.1L255.7 830.6L256.2 831.3L256.3 832.1L256.0 832.9L252.2 830.4L251.8 830.7L251.2 831.1L250.5 831.6L249.8 832.1L249.0 832.7L248.1 833.3L247.3 834.0L246.4 834.6L245.6 835.2L244.8 835.7L244.1 836.2L243.5 836.6L243.0 837.0L242.6 837.3L242.1 837.5L241.8 837.8L241.4 838.0L241.1 838.2L240.7 838.4L240.4 838.6L240.1 838.8L239.7 839.0L239.4 839.3L239.0 839.5L238.7 839.7L238.3 839.9L237.9 840.2L237.5 840.4L237.1 840.7L236.6 841.0L236.2 841.2L235.8 841.5L235.3 841.9L234.9 842.3L234.5 842.8L234.2 843.6L234.2 844.5L234.6 845.3L235.1 845.8L235.6 846.2L236.1 846.4L236.6 846.6L237.0 846.7L237.4 846.9L237.8 847.0L238.2 847.1L238.6 847.2L239.0 847.3L239.2 847.4L239.4 847.5L239.6 847.6L239.9 847.8L240.3 848.0L240.9 848.2L241.6 848.4L242.3 848.6L243.2 848.8L244.3 849.0L245.6 849.1L247.0 849.3L248.7 849.4L250.4 849.6L252.3 849.8L254.4 850.0L256.6 850.2L259.1 850.4L261.7 850.5L264.5 850.7L267.4 850.8L270.6 850.8L274.1 850.8L277.7 850.7L281.7 850.5L286.0 850.3L290.6 850.0L295.5 849.7L300.5 849.3L305.7 848.9L311.0 848.4L316.3 848.0L321.5 847.6L326.6 847.2L331.6 846.8L336.3 846.5L340.9 846.2L345.3 845.9L349.8 845.6L354.1 845.3L358.4 845.1L362.7 844.8L366.9 844.6L371.2 844.4L375.4 844.1L379.7 843.9L383.9 843.8L388.2 843.6L392.5 843.4L396.7 843.3L400.8 843.2L404.9 843.1L409.0 843.0L413.2 843.0L417.4 842.9L421.7 842.8L426.1 842.8L430.6 842.7L435.3 842.6L440.2 842.5L445.4 842.4L450.9 842.2L456.7 842.0L462.7 841.8L468.8 841.6L475.0 841.5L481.0 841.3L487.0 841.1L492.7 841.0L498.1 840.9L503.1 840.9L507.7 840.9L511.7 841.0L515.4 841.1L518.7 841.3L521.8 841.5L524.7 841.7L527.4 842.0L530.0 842.3L532.6 842.6L535.2 842.9L538.0 843.1L540.8 843.4L543.9 843.6L547.1 843.7L550.5 843.9L553.8 844.1L557.3 844.2L560.7 844.3L564.1 844.5L567.5 844.6L570.9 844.7L574.1 844.8L577.2 844.9L580.2 845.1L582.9 845.2L585.6 845.3L588.2 845.5L590.7 845.7L593.1 845.8L595.4 846.0L597.7 846.2L599.8 846.3L601.8 846.5L603.8 846.6L605.5 846.7L607.2 846.8L608.7 846.9L610.0 847.0L611.1 847.0L611.9 847.1L612.7 847.1L613.3 847.1L613.9 847.1L614.4 847.0L615.0 847.0L615.5 846.9L616.0 846.9L616.6 846.8L617.3 846.7L618.1 846.6L619.1 846.4L620.1 846.3L621.1 846.1L622.2 845.9L623.3 845.8L624.3 845.5L625.4 845.3L626.3 845.1L627.3 844.9L628.1 844.6L628.9 844.4L629.6 844.1L630.3 843.8L630.9 843.5L631.4 843.1L631.9 842.7L632.3 842.3L632.7 841.9L633.0 841.5L633.2 841.1L633.4 840.6L633.5 840.2L633.6 839.7L633.6 839.1L633.4 838.4L633.0 837.9L632.6 837.5L632.3 837.2L631.9 836.9L631.6 836.7L631.2 836.5L630.9 836.3L630.6 836.1L630.4 836.0L630.2 835.8L630.0 835.7L629.7 835.5L629.5 835.3L629.3 835.1L629.0 834.9L628.6 834.7L628.2 834.4L627.8 834.1L627.3 833.8L626.8 833.6L626.1 833.3L625.4 832.9L624.5 832.6L623.5 832.2L622.4 831.8L621.1 831.4L619.9 831.0L618.6 830.5L617.3 830.1L616.1 829.7L614.9 829.3L613.9 829.0L613.1 828.7L612.4 828.5L610.5 830.7L610.1 830.3L610.0 829.7L610.2 829.2L610.5 828.8L611.1 828.5L611.8 828.4Z"/>
<path class="p" d="M272.2 1123.1L271.9 1122.9L271.5 1122.5L271.0 1122.2L270.5 1121.7L269.9 1121.3L269.3 1120.8L268.7 1120.3L268.0 1119.8L267.4 1119.3L266.7 1118.8L266.1 1118.4L265.5 1117.9L264.9 1117.5L264.2 1117.2L263.5 1116.8L262.9 1116.6L262.3 1116.3L261.8 1116.1L261.4 1115.9L261.1 1115.7L260.9 1115.5L260.7 1115.4L260.5 1115.2L260.4 1114.9L260.2 1114.5L260.0 1114.1L259.8 1113.6L259.6 1113.2L259.4 1112.7L259.3 1112.1L259.2 1111.6L259.2 1111.0L259.2 1110.3L259.2 1109.6L259.3 1108.8L259.4 1108.0L259.6 1107.0L259.9 1105.9L260.2 1104.8L260.7 1103.5L261.1 1102.2L261.6 1100.8L262.2 1099.4L262.7 1098.0L263.3 1096.6L263.9 1095.2L264.4 1093.9L264.9 1092.6L265.4 1091.4L265.9 1090.3L266.5 1089.1L267.0 1087.9L267.6 1086.8L268.1 1085.6L268.7 1084.4L269.2 1083.3L269.8 1082.1L270.3 1081.0L270.8 1079.8L271.2 1078.7L271.6 1077.6L271.9 1076.6L272.3 1075.7L272.7 1074.7L273.0 1073.8L273.4 1072.8L273.6 1071.8L273.9 1070.7L274.1 1069.6L274.3 1068.4L274.4 1067.1L274.4 1065.8L274.4 1064.3L274.2 1062.8L274.0 1061.3L273.8 1059.7L273.5 1058.0L273.2 1056.4L272.9 1054.7L272.5 1053.0L272.2 1051.4L271.8 1049.8L271.5 1048.3L271.2 1046.8L270.9 1045.3L270.6 1043.9L270.3 1042.4L270.0 1041.0L269.7 1039.6L269.4 1038.3L269.0 1036.9L268.7 1035.6L268.4 1034.3L268.2 1033.0L267.9 1031.7L267.6 1030.4L267.4 1029.2L267.1 1028.0L266.9 1026.8L266.7 1025.6L266.5 1024.5L266.2 1023.4L266.0 1022.3L265.9 1021.2L265.7 1020.1L265.5 1019.0L265.4 1017.8L265.3 1016.6L265.2 1015.4L265.2 1014.1L265.1 1012.8L265.1 1011.4L265.1 1010.0L265.1 1008.6L265.1 1007.2L265.1 1005.8L265.1 1004.5L265.1 1003.2L265.2 1001.9L265.2 1000.8L265.2 999.7L265.2 998.6L265.2 997.6L265.2 996.6L265.2 995.7L265.2 994.8L265.2 993.9L265.3 993.1L265.3 992.2L265.3 991.4L265.3 990.5L265.4 989.7L265.4 988.9L265.5 988.2L265.6 987.4L265.6 986.7L265.7 986.0L265.8 985.2L265.9 984.5L265.9 983.7L266.0 983.0L266.0 982.2L266.1 981.5L266.0 980.7L266.0 980.0L266.0 979.3L266.0 978.6L266.0 977.9L265.9 977.2L265.8 976.5L265.7 975.7L265.6 975.0L265.5 974.2L265.3 973.4L265.1 972.6L264.9 971.8L264.5 970.9L264.2 970.0L263.8 969.1L263.3 968.2L262.9 967.3L262.4 966.4L261.9 965.5L261.5 964.6L261.0 963.7L260.6 962.8L260.1 961.9L259.7 961.1L259.3 960.1L258.9 959.2L258.5 958.2L258.1 957.2L257.7 956.2L257.2 955.2L256.9 954.2L256.5 953.3L256.2 952.4L255.9 951.5L255.6 950.7L255.4 950.0L255.3 949.4L255.2 948.8L255.2 948.3L255.2 947.8L255.2 947.3L255.2 946.9L255.3 946.5L255.4 946.1L255.4 945.6L255.5 945.2L255.6 944.8L255.7 944.3L255.8 943.9L255.9 943.5L256.0 943.1L256.1 942.7L256.2 942.4L256.2 942.1L256.3 941.9L256.5 941.6L256.6 941.4L256.7 941.3L256.8 941.2L256.9 941.0L257.0 940.9L257.2 940.8L257.4 940.7L257.6 940.6L257.9 940.5L258.3 940.4L258.6 940.3L259.1 940.2L259.5 940.1L260.0 940.0L260.5 939.9L261.0 939.9L261.5 939.8L261.9 939.7L262.3 939.7L262.6 939.7L262.9 939.7L263.3 939.6L263.8 939.6L264.4 939.7L265.0 939.7L265.9 939.7L266.9 939.7L268.1 939.8L269.5 939.8L271.1 939.9L272.8 940.0L274.7 940.1L276.7 940.2L278.8 940.3L280.9 940.4L283.0 940.6L285.2 940.7L287.3 940.9L289.3 941.0L291.2 941.2L293.1 941.4L294.9 941.6L296.8 941.9L298.6 942.1L300.5 942.4L302.3 942.6L304.2 942.9L306.0 943.2L307.9 943.5L309.7 943.8L311.5 944.1L313.4 944.5L315.2 944.8L317.1 945.1L318.9 945.5L320.8 945.9L322.7 946.2L324.5 946.6L326.4 947.0L328.2 947.4L330.0 947.8L331.8 948.2L333.5 948.6L335.3 949.0L337.0 949.4L338.6 949.7L340.2 950.1L341.8 950.5L343.4 950.8L345.0 951.2L346.5 951.6L348.1 952.0L349.6 952.4L351.1 952.8L352.7 953.2L354.3 953.6L355.9 954.1L357.7 954.5L359.5 955.0L361.4 955.6L363.3 956.1L365.2 956.7L366.9 957.2L368.6 957.7L370.2 958.2L371.6 958.6L372.8 958.9L373.8 959.2L375.0 957.9L375.2 958.2L375.2 958.5L375.1 958.8L374.9 959.0L374.6 959.2L374.2 959.2L374.6 957.7L373.8 957.3L372.7 956.9L371.3 956.3L369.9 955.7L368.3 955.0L366.6 954.4L364.8 953.6L363.0 952.9L361.1 952.2L359.4 951.6L357.6 950.9L356.0 950.3L354.4 949.8L352.8 949.4L351.2 948.9L349.7 948.5L348.1 948.0L346.6 947.6L345.0 947.2L343.4 946.8L341.8 946.4L340.2 946.0L338.5 945.6L336.8 945.2L335.1 944.8L333.3 944.3L331.5 943.9L329.7 943.5L327.9 943.1L326.0 942.7L324.1 942.3L322.2 941.9L320.3 941.5L318.4 941.1L316.6 940.7L314.7 940.4L312.8 940.0L311.0 939.7L309.1 939.4L307.2 939.0L305.3 938.7L303.4 938.4L301.6 938.1L299.7 937.9L297.7 937.6L295.8 937.4L293.9 937.1L292.0 936.9L290.0 936.7L287.9 936.5L285.7 936.4L283.5 936.2L281.4 936.1L279.2 936.0L277.1 935.9L275.1 935.8L273.2 935.7L271.4 935.6L269.8 935.5L268.4 935.5L267.2 935.4L266.2 935.4L265.3 935.3L264.5 935.3L263.8 935.3L263.2 935.3L262.6 935.3L262.1 935.4L261.5 935.4L261.0 935.5L260.5 935.5L259.9 935.6L259.3 935.7L258.7 935.8L258.1 935.9L257.5 936.0L256.9 936.1L256.2 936.3L255.6 936.5L255.0 936.7L254.4 936.9L253.8 937.2L253.2 937.6L252.6 938.0L252.1 938.4L251.7 938.9L251.3 939.3L251.0 939.8L250.7 940.3L250.5 940.8L250.3 941.3L250.1 941.7L250.0 942.2L249.9 942.7L249.8 943.1L249.6 943.6L249.6 944.1L249.5 944.5L249.4 945.0L249.3 945.5L249.3 946.1L249.2 946.6L249.2 947.2L249.2 947.9L249.3 948.6L249.3 949.3L249.5 950.0L249.7 950.8L249.9 951.7L250.1 952.6L250.4 953.5L250.7 954.5L251.1 955.5L251.5 956.5L251.9 957.5L252.3 958.6L252.7 959.6L253.1 960.6L253.5 961.6L253.9 962.5L254.3 963.5L254.7 964.4L255.1 965.4L255.6 966.3L256.0 967.2L256.4 968.1L256.9 969.0L257.3 969.9L257.6 970.7L257.9 971.5L258.2 972.2L258.4 972.9L258.6 973.6L258.8 974.3L258.9 975.0L259.0 975.6L259.1 976.2L259.2 976.8L259.2 977.4L259.3 978.1L259.3 978.7L259.3 979.4L259.3 980.0L259.3 980.7L259.3 981.4L259.3 982.0L259.2 982.7L259.2 983.4L259.1 984.1L259.0 984.8L258.9 985.5L258.8 986.2L258.7 987.0L258.6 987.8L258.6 988.7L258.5 989.5L258.4 990.4L258.4 991.2L258.4 992.1L258.3 992.9L258.3 993.8L258.3 994.7L258.2 995.6L258.2 996.6L258.2 997.5L258.2 998.6L258.1 999.6L258.1 1000.7L258.1 1001.9L258.1 1003.1L258.1 1004.4L258.1 1005.8L258.0 1007.2L258.0 1008.6L258.0 1010.0L258.0 1011.4L258.1 1012.9L258.1 1014.3L258.2 1015.6L258.3 1017.0L258.4 1018.2L258.5 1019.5L258.7 1020.7L258.9 1021.8L259.1 1023.0L259.3 1024.2L259.5 1025.3L259.7 1026.4L259.9 1027.6L260.2 1028.8L260.4 1030.0L260.7 1031.2L260.9 1032.5L261.2 1033.8L261.5 1035.1L261.7 1036.5L262.0 1037.8L262.3 1039.2L262.7 1040.5L263.0 1041.9L263.3 1043.3L263.5 1044.7L263.8 1046.1L264.1 1047.6L264.4 1049.1L264.7 1050.7L265.0 1052.3L265.4 1053.9L265.7 1055.5L266.0 1057.1L266.3 1058.8L266.6 1060.3L266.8 1061.8L266.9 1063.2L267.0 1064.6L267.1 1065.8L267.0 1066.9L267.0 1067.9L266.8 1068.9L266.7 1069.8L266.5 1070.7L266.2 1071.5L265.9 1072.4L265.6 1073.2L265.3 1074.1L264.9 1075.1L264.5 1076.1L264.1 1077.2L263.7 1078.2L263.3 1079.3L262.9 1080.3L262.4 1081.4L261.8 1082.6L261.3 1083.7L260.8 1084.9L260.2 1086.1L259.6 1087.3L259.1 1088.5L258.6 1089.8L258.1 1091.1L257.6 1092.3L257.1 1093.7L256.5 1095.1L256.0 1096.5L255.5 1097.9L254.9 1099.4L254.4 1100.8L254.0 1102.2L253.6 1103.6L253.2 1104.9L252.9 1106.2L252.7 1107.4L252.6 1108.4L252.6 1109.5L252.6 1110.5L252.7 1111.4L252.9 1112.2L253.1 1113.1L253.4 1113.8L253.7 1114.6L254.0 1115.2L254.4 1115.9L254.8 1116.5L255.3 1117.1L255.8 1117.7L256.5 1118.3L257.3 1118.8L258.0 1119.2L258.8 1119.5L259.5 1119.7L260.1 1119.9L260.7 1120.1L261.3 1120.2L261.8 1120.4L262.3 1120.6L262.7 1120.8L263.3 1121.0L264.0 1121.4L264.7 1121.7L265.5 1122.1L266.2 1122.5L266.9 1122.9L267.7 1123.3L268.4 1123.6L269.0 1124.0L269.6 1124.3L270.1 1124.5L270.5 1124.7L272.5 1123.4L272.6 1123.8L272.6 1124.2L272.3 1124.6L271.9 1124.8L271.4 1124.9L270.9 1124.9Z"/>
<path class="p" d="M352.3 951.9L353.3 951.9L354.6 951.9L356.0 951.9L357.6 951.9L359.3 951.8L361.2 951.8L363.2 951.7L365.2 951.7L367.4 951.7L369.7 951.6L372.0 951.6L374.4 951.5L376.8 951.4L379.2 951.3L381.7 951.2L384.3 951.1L386.9 950.9L389.7 950.8L392.6 950.7L395.6 950.6L398.8 950.5L402.1 950.4L405.7 950.4L409.5 950.3L413.5 950.3L417.9 950.2L422.5 950.2L427.3 950.2L432.2 950.2L437.3 950.2L442.5 950.3L447.7 950.3L452.9 950.3L458.0 950.4L463.1 950.5L468.1 950.5L473.0 950.6L478.2 950.7L483.4 950.9L488.7 951.0L493.9 951.2L499.2 951.3L504.3 951.5L509.3 951.7L514.1 951.8L518.6 952.0L522.8 952.1L526.7 952.2L530.1 952.3L533.2 952.4L535.8 952.5L538.2 952.6L540.5 952.7L542.6 952.8L544.6 952.9L546.7 952.9L548.8 952.9L551.1 952.9L553.6 952.9L556.3 952.8L559.3 952.7L562.5 952.5L565.8 952.4L569.2 952.2L572.7 951.9L576.2 951.7L579.7 951.4L583.2 951.1L586.5 950.8L589.8 950.4L592.9 950.1L595.8 949.7L598.6 949.3L601.2 948.9L603.7 948.5L606.1 948.0L608.4 947.5L610.7 947.0L612.8 946.5L614.9 946.0L616.9 945.6L618.9 945.1L620.9 944.7L622.9 944.4L624.9 944.0L626.9 943.7L628.8 943.3L630.8 943.0L632.7 942.7L634.6 942.4L636.4 942.1L638.1 941.9L639.9 941.6L641.5 941.4L643.1 941.2L644.6 941.1L646.1 940.9L647.5 940.8L648.8 940.7L650.1 940.6L651.4 940.5L652.6 940.4L653.7 940.4L654.7 940.4L655.7 940.4L656.6 940.4L657.4 940.5L658.1 940.5L658.8 940.6L659.3 940.8L659.7 940.9L660.1 941.0L660.4 941.2L660.6 941.3L660.8 941.5L661.0 941.6L661.2 941.8L661.4 942.0L661.5 942.2L661.6 942.4L661.7 942.6L661.8 942.7L661.8 942.8L661.8 942.9L661.8 943.0L661.7 943.2L661.6 943.5L661.5 943.9L661.4 944.3L661.2 944.8L661.0 945.3L660.8 945.9L660.5 946.6L660.2 947.3L659.8 948.1L659.4 948.9L659.0 949.8L658.5 950.7L658.0 951.7L657.5 952.6L657.0 953.6L656.5 954.6L656.0 955.6L655.6 956.5L655.1 957.5L654.6 958.5L654.1 959.5L653.7 960.5L653.2 961.5L652.7 962.5L652.2 963.5L651.7 964.5L651.2 965.5L650.8 966.4L650.3 967.3L649.9 968.2L649.4 969.0L649.0 969.8L648.6 970.6L648.2 971.3L647.8 972.0L647.3 972.7L646.9 973.5L646.5 974.2L646.1 975.0L645.7 975.8L645.3 976.6L645.0 977.5L644.6 978.3L644.3 979.1L644.0 979.9L643.7 980.8L643.4 981.6L643.1 982.5L642.9 983.4L642.6 984.3L642.4 985.2L642.2 986.2L642.0 987.1L641.9 988.1L641.8 989.1L641.7 990.1L641.6 991.2L641.6 992.2L641.5 993.2L641.5 994.3L641.5 995.4L641.6 996.5L641.6 997.6L641.6 998.7L641.7 999.9L641.7 1001.1L641.8 1002.4L641.9 1003.6L642.0 1004.9L642.1 1006.3L642.3 1007.6L642.4 1009.0L642.6 1010.4L642.7 1011.8L642.9 1013.3L643.1 1014.8L643.3 1016.3L643.4 1017.9L643.6 1019.6L643.8 1021.3L643.9 1023.0L644.1 1024.8L644.3 1026.6L644.5 1028.5L644.7 1030.4L644.9 1032.3L645.2 1034.2L645.4 1036.2L645.7 1038.2L646.0 1040.1L646.4 1042.1L646.7 1044.1L647.1 1046.2L647.6 1048.3L648.0 1050.4L648.5 1052.6L648.9 1054.7L649.4 1056.8L649.9 1058.8L650.4 1060.8L650.9 1062.7L651.3 1064.5L651.8 1066.2L652.3 1067.9L652.8 1069.5L653.4 1071.1L653.9 1072.6L654.4 1074.1L654.9 1075.6L655.4 1077.0L655.9 1078.4L656.4 1079.7L656.9 1081.0L657.4 1082.3L657.9 1083.6L658.4 1084.9L659.0 1086.2L659.5 1087.4L660.0 1088.6L660.5 1089.7L661.0 1090.8L661.5 1091.9L661.9 1092.8L662.2 1093.8L662.5 1094.6L662.8 1095.4L663.0 1096.1L663.1 1096.8L663.2 1097.3L663.3 1097.8L663.4 1098.3L663.4 1098.7L663.4 1099.1L663.3 1099.5L663.3 1099.9L663.2 1100.4L663.1 1100.9L662.9 1101.4L662.8 1102.0L662.6 1102.5L662.4 1103.1L662.1 1103.8L661.7 1104.4L661.4 1105.1L661.0 1105.8L660.7 1106.4L660.3 1107.1L659.9 1107.8L659.6 1108.4L659.3 1109.0L659.0 1109.5L658.8 1110.1L658.6 1110.6L658.4 1111.0L658.2 1111.5L658.0 1111.9L657.9 1112.2L657.7 1112.6L657.6 1112.9L657.4 1113.1L657.3 1113.4L657.1 1113.6L657.0 1113.8L656.9 1114.0L656.7 1114.2L656.5 1114.5L656.2 1114.7L656.0 1114.9L655.7 1115.1L655.4 1115.3L655.1 1115.5L654.8 1115.7L654.6 1115.9L654.4 1116.1L655.5 1118.1L654.9 1118.1L654.4 1117.9L654.0 1117.6L653.8 1117.2L653.8 1116.8L654.0 1116.4L656.0 1117.9L656.3 1117.9L656.5 1117.9L656.8 1117.8L657.2 1117.7L657.6 1117.6L658.1 1117.5L658.6 1117.3L659.1 1117.1L659.6 1116.9L660.2 1116.6L660.7 1116.3L661.2 1115.9L661.7 1115.5L662.0 1115.2L662.4 1114.8L662.7 1114.3L663.0 1113.9L663.3 1113.5L663.5 1113.1L663.8 1112.6L664.1 1112.2L664.4 1111.7L664.7 1111.3L665.0 1110.8L665.3 1110.3L665.6 1109.7L666.0 1109.1L666.5 1108.4L666.9 1107.7L667.3 1107.0L667.8 1106.3L668.2 1105.6L668.6 1104.8L668.9 1104.0L669.3 1103.3L669.5 1102.5L669.7 1101.9L669.9 1101.3L670.0 1100.7L670.1 1100.0L670.2 1099.4L670.3 1098.8L670.3 1098.1L670.2 1097.5L670.2 1096.7L670.0 1096.0L669.9 1095.2L669.7 1094.3L669.4 1093.3L669.1 1092.3L668.7 1091.3L668.3 1090.2L667.8 1089.1L667.4 1088.0L666.9 1086.9L666.4 1085.7L665.9 1084.5L665.4 1083.3L664.9 1082.1L664.5 1080.9L664.1 1079.6L663.6 1078.2L663.2 1076.9L662.7 1075.5L662.2 1074.1L661.8 1072.7L661.3 1071.3L660.9 1069.8L660.4 1068.2L660.0 1066.6L659.5 1065.0L659.1 1063.3L658.7 1061.5L658.2 1059.7L657.8 1057.7L657.3 1055.7L656.9 1053.7L656.4 1051.6L656.0 1049.5L655.6 1047.4L655.2 1045.3L654.8 1043.3L654.5 1041.3L654.2 1039.3L653.9 1037.4L653.6 1035.5L653.4 1033.6L653.2 1031.8L652.9 1029.9L652.8 1028.0L652.6 1026.1L652.4 1024.3L652.3 1022.5L652.1 1020.8L651.9 1019.1L651.8 1017.4L651.6 1015.8L651.4 1014.3L651.3 1012.8L651.1 1011.3L651.0 1009.9L650.8 1008.5L650.7 1007.1L650.6 1005.8L650.5 1004.5L650.4 1003.3L650.3 1002.0L650.2 1000.8L650.2 999.7L650.1 998.5L650.0 997.4L650.0 996.3L649.9 995.3L649.9 994.3L649.9 993.3L649.9 992.3L649.9 991.4L649.9 990.5L650.0 989.6L650.1 988.7L650.2 987.8L650.3 987.0L650.4 986.1L650.6 985.3L650.7 984.5L650.9 983.7L651.1 982.9L651.3 982.2L651.5 981.4L651.8 980.6L652.0 979.8L652.3 979.1L652.6 978.3L652.8 977.6L653.1 976.9L653.4 976.3L653.8 975.6L654.1 974.9L654.5 974.1L654.9 973.4L655.3 972.6L655.7 971.8L656.1 970.9L656.5 970.0L656.9 969.1L657.3 968.2L657.7 967.2L658.2 966.2L658.6 965.2L659.1 964.2L659.5 963.1L659.9 962.1L660.4 961.1L660.8 960.1L661.2 959.1L661.6 958.1L662.1 957.2L662.5 956.2L662.9 955.2L663.4 954.3L663.9 953.3L664.3 952.3L664.7 951.4L665.1 950.4L665.5 949.5L665.9 948.7L666.2 947.9L666.4 947.1L666.6 946.5L666.8 945.9L667.0 945.4L667.2 944.8L667.3 944.3L667.4 943.8L667.4 943.3L667.4 942.8L667.4 942.2L667.2 941.7L667.0 941.1L666.7 940.6L666.4 940.2L666.1 939.7L665.7 939.3L665.2 938.9L664.6 938.4L664.0 938.0L663.4 937.7L662.6 937.3L661.8 937.1L661.0 936.8L660.0 936.6L659.1 936.5L658.1 936.4L657.0 936.3L655.9 936.2L654.8 936.2L653.6 936.2L652.3 936.3L651.0 936.3L649.7 936.4L648.3 936.5L646.8 936.6L645.4 936.7L643.8 936.9L642.3 937.0L640.6 937.2L638.9 937.5L637.1 937.7L635.3 938.0L633.4 938.2L631.5 938.5L629.6 938.9L627.6 939.2L625.6 939.5L623.6 939.9L621.6 940.2L619.5 940.6L617.4 941.1L615.3 941.5L613.3 942.0L611.2 942.5L609.1 943.0L606.9 943.4L604.7 943.9L602.4 944.4L600.0 944.8L597.5 945.2L594.9 945.6L592.1 945.9L589.0 946.2L585.8 946.5L582.5 946.8L579.1 947.1L575.6 947.4L572.2 947.6L568.7 947.9L565.4 948.1L562.1 948.2L559.0 948.4L556.0 948.5L553.4 948.5L551.0 948.6L548.9 948.6L546.8 948.5L544.9 948.5L542.9 948.4L540.8 948.3L538.6 948.2L536.2 948.1L533.4 948.0L530.4 947.9L526.9 947.8L523.1 947.6L518.9 947.5L514.3 947.4L509.6 947.2L504.6 947.1L499.4 946.9L494.2 946.7L488.9 946.6L483.6 946.4L478.3 946.3L473.2 946.2L468.2 946.1L463.2 946.0L458.1 945.9L452.9 945.9L447.7 945.8L442.5 945.8L437.3 945.8L432.2 945.8L427.2 945.8L422.4 945.8L417.8 945.8L413.5 945.8L409.4 945.9L405.5 945.9L401.9 946.0L398.5 946.2L395.3 946.3L392.2 946.4L389.3 946.6L386.6 946.8L383.9 946.9L381.3 947.1L378.8 947.2L376.4 947.4L374.0 947.5L371.7 947.7L369.3 947.9L367.1 948.2L364.9 948.4L362.8 948.6L360.8 948.8L359.0 949.0L357.3 949.2L355.7 949.4L354.3 949.6L353.1 949.7L352.1 949.9L351.8 951.8L351.3 951.6L351.0 951.3L350.9 951.0L350.9 950.6L351.2 950.2L351.6 950.0Z"/>
<path class="p" d="M661.0 1115.1L661.7 1115.4L662.7 1115.8L663.8 1116.2L665.0 1116.6L666.3 1117.2L667.7 1117.7L669.1 1118.2L670.5 1118.7L671.8 1119.3L673.0 1119.7L674.0 1120.2L674.8 1120.6L675.5 1120.8L676.0 1121.1L676.5 1121.3L676.9 1121.5L677.2 1121.7L677.4 1121.9L677.7 1122.1L677.9 1122.2L678.2 1122.4L678.4 1122.6L678.8 1122.9L679.1 1123.1L679.6 1123.4L680.0 1123.6L680.3 1123.8L680.7 1124.0L681.0 1124.2L681.2 1124.3L681.3 1124.4L681.4 1124.4L681.3 1124.4L681.2 1124.3L681.2 1124.0L681.1 1123.8L681.1 1123.7L681.1 1123.8L681.1 1123.8L681.0 1123.9L680.9 1124.0L680.8 1124.1L680.7 1124.2L680.5 1124.4L680.2 1124.5L679.9 1124.7L679.5 1124.8L679.1 1125.0L678.5 1125.1L677.7 1125.3L676.8 1125.5L675.8 1125.7L674.8 1125.9L673.7 1126.1L672.5 1126.3L671.4 1126.5L670.3 1126.7L669.2 1126.8L668.2 1126.9L667.3 1127.1L666.5 1127.1L665.8 1127.2L665.2 1127.3L664.8 1127.3L664.4 1127.4L664.1 1127.4L663.6 1127.4L663.0 1127.4L662.3 1127.4L661.4 1127.4L660.2 1127.3L658.8 1127.3L657.1 1127.2L655.3 1127.1L653.3 1127.0L651.2 1126.8L648.9 1126.7L646.5 1126.5L644.0 1126.3L641.3 1126.1L638.6 1126.0L635.7 1125.8L632.8 1125.6L629.7 1125.5L626.6 1125.3L623.2 1125.2L619.7 1125.0L616.0 1124.9L612.3 1124.7L608.4 1124.6L604.6 1124.4L600.7 1124.3L596.8 1124.1L593.0 1124.0L589.3 1123.8L585.7 1123.6L582.4 1123.4L579.2 1123.1L576.2 1122.9L573.3 1122.6L570.4 1122.3L567.4 1122.0L564.2 1121.7L560.9 1121.4L557.3 1121.2L553.4 1121.0L549.2 1120.9L544.5 1120.8L539.2 1120.8L533.5 1120.8L527.4 1120.9L520.9 1121.0L514.1 1121.2L507.3 1121.4L500.3 1121.6L493.4 1121.8L486.7 1122.0L480.1 1122.2L473.9 1122.3L468.0 1122.5L462.5 1122.6L457.3 1122.7L452.2 1122.7L447.2 1122.8L442.4 1122.9L437.6 1122.9L432.9 1123.0L428.3 1123.1L423.6 1123.2L418.9 1123.3L414.1 1123.4L409.3 1123.6L404.4 1123.8L399.6 1124.0L394.7 1124.2L389.9 1124.4L385.1 1124.6L380.3 1124.9L375.5 1125.1L370.6 1125.4L365.7 1125.7L360.7 1126.0L355.6 1126.3L350.5 1126.6L345.1 1126.9L339.5 1127.3L333.7 1127.8L327.8 1128.2L321.8 1128.7L315.9 1129.2L310.0 1129.6L304.4 1130.0L298.9 1130.4L293.7 1130.7L288.9 1131.0L284.6 1131.1L280.6 1131.2L276.9 1131.3L273.4 1131.2L270.1 1131.1L267.1 1131.0L264.2 1130.8L261.6 1130.6L259.1 1130.4L256.8 1130.2L254.7 1130.0L252.7 1129.9L250.8 1129.7L249.2 1129.6L248.0 1129.4L247.1 1129.3L246.4 1129.2L245.9 1129.0L245.6 1128.9L245.3 1128.9L245.1 1128.8L244.8 1128.6L244.4 1128.4L243.8 1128.2L243.2 1128.0L242.6 1127.8L242.1 1127.7L241.6 1127.5L241.2 1127.4L240.9 1127.3L240.6 1127.3L240.5 1127.2L240.5 1127.2L240.7 1127.3L241.0 1127.6L241.2 1128.1L241.2 1128.7L241.0 1129.1L240.9 1129.2L241.0 1129.2L241.2 1129.1L241.4 1128.9L241.8 1128.7L242.2 1128.5L242.7 1128.2L243.1 1127.9L243.6 1127.7L244.1 1127.4L244.6 1127.1L245.0 1126.9L245.3 1126.7L245.7 1126.5L246.0 1126.3L246.4 1126.1L246.7 1125.9L247.2 1125.7L247.6 1125.4L248.1 1125.1L248.6 1124.8L249.2 1124.5L249.8 1124.1L250.5 1123.6L251.3 1123.1L252.2 1122.5L253.1 1121.9L254.1 1121.3L255.1 1120.6L256.0 1120.0L256.9 1119.4L257.8 1118.8L258.5 1118.3L259.2 1117.9L259.7 1117.6L256.9 1114.0L258.0 1113.9L259.1 1114.1L259.9 1114.6L260.5 1115.3L260.6 1116.2L260.3 1116.9L256.0 1114.4L255.5 1114.7L254.9 1115.2L254.1 1115.7L253.3 1116.2L252.4 1116.8L251.4 1117.4L250.4 1118.1L249.5 1118.7L248.5 1119.3L247.7 1119.9L246.9 1120.4L246.2 1120.8L245.6 1121.2L245.1 1121.5L244.7 1121.8L244.2 1122.0L243.8 1122.3L243.4 1122.5L243.1 1122.7L242.7 1122.9L242.3 1123.1L241.9 1123.3L241.5 1123.6L241.1 1123.8L240.7 1124.0L240.3 1124.3L239.9 1124.5L239.4 1124.8L238.9 1125.0L238.4 1125.3L237.9 1125.6L237.4 1125.9L237.0 1126.3L236.5 1126.7L236.0 1127.2L235.7 1128.0L235.7 1129.0L236.1 1129.8L236.7 1130.3L237.3 1130.7L237.9 1131.0L238.4 1131.1L238.9 1131.3L239.3 1131.4L239.8 1131.5L240.2 1131.7L240.7 1131.8L241.1 1131.9L241.4 1132.0L241.5 1132.0L241.8 1132.2L242.1 1132.3L242.6 1132.6L243.3 1132.8L244.0 1133.0L244.9 1133.2L245.9 1133.4L247.1 1133.6L248.5 1133.8L250.2 1133.9L252.0 1134.1L254.0 1134.3L256.2 1134.4L258.5 1134.7L261.0 1134.9L263.8 1135.0L266.7 1135.2L269.8 1135.3L273.2 1135.4L276.8 1135.5L280.7 1135.5L284.8 1135.4L289.3 1135.2L294.1 1135.0L299.4 1134.7L304.9 1134.3L310.6 1133.9L316.5 1133.5L322.4 1133.0L328.4 1132.6L334.3 1132.1L340.0 1131.7L345.6 1131.4L351.0 1131.0L356.1 1130.7L361.2 1130.4L366.1 1130.1L371.1 1129.8L375.9 1129.6L380.7 1129.3L385.5 1129.1L390.3 1128.8L395.1 1128.6L399.9 1128.4L404.7 1128.2L409.6 1128.0L414.4 1127.9L419.1 1127.7L423.8 1127.6L428.4 1127.5L433.1 1127.5L437.7 1127.4L442.5 1127.3L447.3 1127.3L452.3 1127.2L457.4 1127.1L462.7 1127.0L468.2 1126.9L474.1 1126.8L480.3 1126.6L486.9 1126.4L493.7 1126.2L500.6 1126.0L507.5 1125.8L514.3 1125.7L521.0 1125.5L527.5 1125.4L533.6 1125.3L539.3 1125.2L544.4 1125.2L549.0 1125.3L553.1 1125.5L556.9 1125.6L560.4 1125.9L563.6 1126.1L566.6 1126.4L569.6 1126.7L572.5 1127.0L575.5 1127.3L578.6 1127.6L581.8 1127.8L585.3 1128.0L589.0 1128.2L592.7 1128.4L596.5 1128.5L600.4 1128.7L604.3 1128.8L608.2 1128.9L612.0 1129.1L615.7 1129.2L619.4 1129.3L622.9 1129.4L626.2 1129.6L629.4 1129.7L632.4 1129.8L635.3 1130.0L638.1 1130.2L640.8 1130.4L643.5 1130.5L646.0 1130.7L648.4 1130.9L650.7 1131.0L652.9 1131.2L654.9 1131.3L656.7 1131.4L658.4 1131.5L659.9 1131.5L661.1 1131.6L662.1 1131.6L662.9 1131.6L663.7 1131.6L664.3 1131.6L664.9 1131.6L665.5 1131.5L666.1 1131.5L666.7 1131.4L667.3 1131.3L668.1 1131.2L669.1 1131.1L670.2 1131.0L671.3 1130.8L672.5 1130.7L673.7 1130.5L674.9 1130.3L676.1 1130.1L677.2 1129.8L678.4 1129.6L679.4 1129.4L680.4 1129.1L681.3 1128.9L682.1 1128.6L682.8 1128.3L683.5 1127.9L684.1 1127.5L684.6 1127.1L685.1 1126.7L685.5 1126.3L685.9 1125.9L686.1 1125.4L686.3 1125.0L686.5 1124.6L686.6 1124.0L686.5 1123.4L686.3 1122.7L685.9 1122.2L685.5 1121.7L685.1 1121.4L684.6 1121.1L684.2 1120.9L683.9 1120.7L683.5 1120.5L683.2 1120.3L682.9 1120.2L682.7 1120.0L682.4 1119.9L682.2 1119.7L681.9 1119.5L681.7 1119.3L681.3 1119.1L680.9 1118.8L680.5 1118.5L680.0 1118.3L679.5 1118.0L678.8 1117.7L678.1 1117.4L677.3 1117.0L676.3 1116.7L675.2 1116.3L673.9 1115.9L672.5 1115.4L671.1 1115.0L669.6 1114.5L668.1 1114.1L666.8 1113.7L665.5 1113.3L664.3 1112.9L663.4 1112.7L662.6 1112.5L660.4 1114.8L660.0 1114.3L659.9 1113.7L660.1 1113.2L660.5 1112.7L661.2 1112.4L661.9 1112.3Z"/>
<path d="M256.1 102.25V132.75M534.3 102.25V132.75" stroke="#0a0a0a" stroke-width="2.50" stroke-linecap="round" fill="none"/>
<path d="M267.20 112.7H360.7M429.3 112.7H522.80" stroke="#8e8e8e" stroke-width="2.30" fill="none"/>
<path d="M575.3 150.80V192M575.3 254.2V296.00" stroke="#8e8e8e" stroke-width="2.00" fill="none"/>
<path d="M261 112.7L268.20 109.10V116.30Z M529 112.7L521.80 109.10V116.30Z M575.3 144.6L571.70 151.80H578.90Z M575.3 302.2L571.70 295.00H578.90Z" fill="#000"/>
<path d="M550.00 140.9H586.50M557.00 306H593.50" stroke="#0a0a0a" stroke-width="3.00" stroke-linecap="round" fill="none"/>
<path d="M254 356.89V387.91M563.8 356.89V387.91" stroke="#0a0a0a" stroke-width="2.78" stroke-linecap="round" fill="none"/>
<path d="M266.50 367.3H370.7M446.8 367.3H551.20" stroke="#8e8e8e" stroke-width="2.36" fill="none"/>
<path d="M609.6 407.09V448.9M609.6 512.7V555.11" stroke="#8e8e8e" stroke-width="2.22" fill="none"/>
<path d="M259.5 367.3L267.50 363.60V371.00Z M558.2 367.3L550.20 363.60V371.00Z M609.6 400.7L605.60 408.09H613.60Z M609.6 561.5L605.60 554.11H613.60Z" fill="#000"/>
<path d="M581.54 396H622.06M589.34 566.2H629.76" stroke="#0a0a0a" stroke-width="3.08" stroke-linecap="round" fill="none"/>
<path d="M251.8 619.92V651.77M614.3 619.92V651.77" stroke="#0a0a0a" stroke-width="3.25" stroke-linecap="round" fill="none"/>
<path d="M265.96 630.7H388.7M478 630.7H598.34" stroke="#8e8e8e" stroke-width="2.48" fill="none"/>
<path d="M668.3 671.76V717.7M668.3 784.3V828.94" stroke="#8e8e8e" stroke-width="2.60" fill="none"/>
<path d="M257.6 630.7L266.96 626.82V634.58Z M606.7 630.7L597.34 626.82V634.58Z M668.3 665L663.62 672.76H672.98Z M668.3 835.7L663.62 827.94H672.98Z" fill="#000"/>
<path d="M634.92 661H683.38M644.32 840.7H691.68" stroke="#0a0a0a" stroke-width="3.23" stroke-linecap="round" fill="none"/>
<path d="M257 897.53V929.37M664.6 897.53V929.37" stroke="#0a0a0a" stroke-width="3.67" stroke-linecap="round" fill="none"/>
<path d="M272.87 908H410.1M510.4 908H646.83" stroke="#8e8e8e" stroke-width="2.56" fill="none"/>
<path d="M724.4 950.22V998M724.4 1065.6V1112.68" stroke="#8e8e8e" stroke-width="2.94" fill="none"/>
<path d="M263.3 908L273.87 903.99V912.01Z M656.4 908L645.83 903.99V912.01Z M724.4 943.2L719.12 951.22H729.68Z M724.4 1119.7L719.12 1111.68H729.68Z" fill="#000"/>
<path d="M686.57 939.4H741.93M696.47 1124.3H751.53" stroke="#0a0a0a" stroke-width="3.34" stroke-linecap="round" fill="none"/>
</svg>
<div class="t h" style="left:244.28px;top:14.50px;font-size:48.5px;font-weight:700;transform:scaleX(1.0072)">Pillow</div>
<div class="t h" style="left:402.06px;top:14.50px;font-size:48.5px;font-weight:700;transform:scaleX(0.9368)">case</div>
<div class="t h" style="left:519.36px;top:14.50px;font-size:48.5px;font-weight:700;transform:scaleX(0.9433)">size</div>
<div class="t" style="left:379.64px;top:93.30px;font-size:16px;font-weight:400;transform:scaleX(1.0622)">66cm</div>
<div class="t" style="left:362.27px;top:121.30px;font-size:16px;font-weight:400;transform:scaleX(1.0256)">(25.98inch)</div>
<div class="t" style="left:532.27px;top:215.00px;font-size:16px;font-weight:400;transform:scaleX(1.0256)">50cm(19.69inch)</div>
<div class="t" style="left:391.15px;top:350.30px;font-size:16px;font-weight:400;transform:scaleX(1.0514)">75cm</div>
<div class="t" style="left:372.87px;top:378.70px;font-size:16px;font-weight:400;transform:scaleX(1.0321)">(29.53inch)</div>
<div class="t" style="left:556.76px;top:470.30px;font-size:16px;font-weight:400;transform:scaleX(1.0359)">50cm(19.69inch)</div>
<div class="t" style="left:410.25px;top:617.70px;font-size:16px;font-weight:400;transform:scaleX(1.0459)">90cm</div>
<div class="t" style="left:394.00px;top:636.70px;font-size:16.5px;font-weight:700;transform:scaleX(1.0573)">35.43inch</div>
<div class="t" style="left:616.77px;top:741.90px;font-size:16px;font-weight:400;transform:scaleX(1.0299)">50cm(19.69inch)</div>
<div class="t" style="left:438.67px;top:893.80px;font-size:16px;font-weight:400;transform:scaleX(1.0304)">102cm</div>
<div class="t" style="left:421.58px;top:916.30px;font-size:16px;font-weight:400;transform:scaleX(1.0167)">(40.16inch)</div>
<div class="t" style="left:670.68px;top:1027.60px;font-size:16px;font-weight:400;transform:scaleX(1.0231)">51cm(20.08inch)</div>
</body></html>
